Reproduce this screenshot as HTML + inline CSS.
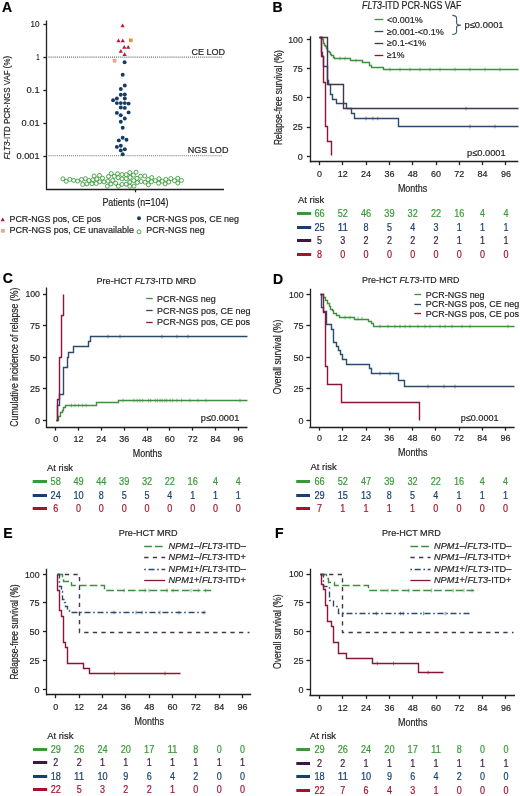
<!DOCTYPE html>
<html><head><meta charset="utf-8"><title>Figure</title>
<style>
html,body{margin:0;padding:0;background:#fff;}
body{width:520px;height:796px;overflow:hidden;}
svg{display:block;will-change:transform;}
text{font-family:"Liberation Sans",sans-serif;stroke-width:0.2px;}
</style></head><body>
<svg width="520" height="796" viewBox="0 0 520 796" fill="#231f20" stroke="#231f20" stroke-width="0">
<rect width="520" height="796" fill="#fff"/>
<text x="1.90" y="12.20" font-size="14" fill="#000" stroke="#000" font-weight="bold">A</text>
<line x1="46.50" y1="20.50" x2="46.50" y2="189.90" stroke="#231f20" stroke-width="1.3"/>
<line x1="46.00" y1="189.50" x2="224.00" y2="189.50" stroke="#231f20" stroke-width="1.3"/>
<line x1="43.40" y1="24.50" x2="46.60" y2="24.50" stroke="#231f20" stroke-width="1.3"/>
<text x="39.60" y="27.30" font-size="9.3" text-anchor="end" textLength="9" lengthAdjust="spacingAndGlyphs">10</text>
<line x1="43.40" y1="57.50" x2="46.60" y2="57.50" stroke="#231f20" stroke-width="1.3"/>
<text x="39.60" y="60.30" font-size="9.3" text-anchor="end" textLength="3.4" lengthAdjust="spacingAndGlyphs">1</text>
<line x1="43.40" y1="90.50" x2="46.60" y2="90.50" stroke="#231f20" stroke-width="1.3"/>
<text x="39.60" y="93.30" font-size="9.3" text-anchor="end" textLength="13" lengthAdjust="spacingAndGlyphs">0.1</text>
<line x1="43.40" y1="123.50" x2="46.60" y2="123.50" stroke="#231f20" stroke-width="1.3"/>
<text x="39.60" y="126.30" font-size="9.3" text-anchor="end" textLength="18" lengthAdjust="spacingAndGlyphs">0.01</text>
<line x1="43.40" y1="156.50" x2="46.60" y2="156.50" stroke="#231f20" stroke-width="1.3"/>
<text x="39.60" y="159.30" font-size="9.3" text-anchor="end" textLength="23" lengthAdjust="spacingAndGlyphs">0.001</text>
<line x1="135.50" y1="189.30" x2="135.50" y2="192.30" stroke="#231f20" stroke-width="1.3"/>
<text x="102.40" y="206.00" font-size="10.8" textLength="66" lengthAdjust="spacingAndGlyphs">Patients (n=104)</text>
<text transform="translate(10.4,159.6) rotate(-90)" font-size="9.7" textLength="103.8" lengthAdjust="spacingAndGlyphs"><tspan font-style="italic">FLT3</tspan>-ITD PCR-NGS VAF (%)</text>
<line x1="48.5" y1="57.1" x2="222.5" y2="57.1" stroke="#6a6a6a" stroke-width="1.05" stroke-dasharray="1 1.05"/>
<line x1="48.5" y1="155.8" x2="222.5" y2="155.8" stroke="#6a6a6a" stroke-width="1.05" stroke-dasharray="1 1.05"/>
<text x="191.40" y="54.60" font-size="8.9" textLength="33.6" lengthAdjust="spacingAndGlyphs">CE LOD</text>
<text x="187.80" y="152.70" font-size="8.9" textLength="40.6" lengthAdjust="spacingAndGlyphs">NGS LOD</text>
<path d="M120.50 27.29 L122.60 23.51 L124.70 27.29 Z" fill="#c2142f"/>
<path d="M116.40 42.19 L118.50 38.41 L120.60 42.19 Z" fill="#c2142f"/>
<path d="M120.70 42.19 L122.80 38.41 L124.90 42.19 Z" fill="#c2142f"/>
<path d="M122.20 48.79 L124.30 45.01 L126.40 48.79 Z" fill="#c2142f"/>
<path d="M126.10 48.79 L128.20 45.01 L130.30 48.79 Z" fill="#c2142f"/>
<path d="M118.70 52.69 L120.80 48.91 L122.90 52.69 Z" fill="#c2142f"/>
<path d="M122.50 56.09 L124.60 52.31 L126.70 56.09 Z" fill="#c2142f"/>
<rect x="129.0" y="38.5" width="3.6" height="3.6" fill="#e8912c"/>
<rect x="112.8" y="59.0" width="3.6" height="3.6" fill="#eea290"/>
<circle cx="124.6" cy="62.2" r="1.95" fill="#143a66"/>
<circle cx="122.7" cy="74.8" r="1.95" fill="#143a66"/>
<circle cx="124.8" cy="85.5" r="1.95" fill="#143a66"/>
<circle cx="120.8" cy="89" r="1.95" fill="#143a66"/>
<circle cx="120.8" cy="94.8" r="1.95" fill="#143a66"/>
<circle cx="124.8" cy="94.5" r="1.95" fill="#143a66"/>
<circle cx="116.9" cy="98.5" r="1.95" fill="#143a66"/>
<circle cx="124.8" cy="98.5" r="1.95" fill="#143a66"/>
<circle cx="113.1" cy="100.2" r="1.95" fill="#143a66"/>
<circle cx="116.9" cy="103.1" r="1.95" fill="#143a66"/>
<circle cx="120.8" cy="103.1" r="1.95" fill="#143a66"/>
<circle cx="124.8" cy="103.1" r="1.95" fill="#143a66"/>
<circle cx="128.6" cy="103.6" r="1.95" fill="#143a66"/>
<circle cx="120.8" cy="107.5" r="1.95" fill="#143a66"/>
<circle cx="124.8" cy="107.9" r="1.95" fill="#143a66"/>
<circle cx="116.9" cy="112.9" r="1.95" fill="#143a66"/>
<circle cx="128.6" cy="112.4" r="1.95" fill="#143a66"/>
<circle cx="120.8" cy="115.2" r="1.95" fill="#143a66"/>
<circle cx="124.8" cy="118.5" r="1.95" fill="#143a66"/>
<circle cx="120.8" cy="121.8" r="1.95" fill="#143a66"/>
<circle cx="122.7" cy="127.7" r="1.95" fill="#143a66"/>
<circle cx="122.7" cy="137.7" r="1.95" fill="#143a66"/>
<circle cx="118.8" cy="140.4" r="1.95" fill="#143a66"/>
<circle cx="126.5" cy="139.8" r="1.95" fill="#143a66"/>
<circle cx="116.9" cy="146.9" r="1.95" fill="#143a66"/>
<circle cx="120.8" cy="145.8" r="1.95" fill="#143a66"/>
<circle cx="120.8" cy="150.4" r="1.95" fill="#143a66"/>
<circle cx="124.8" cy="149.2" r="1.95" fill="#143a66"/>
<circle cx="122.7" cy="154.2" r="1.95" fill="#143a66"/>
<circle cx="122.00" cy="184.40" r="2.0" fill="none" stroke="#3b9d3b" stroke-width="0.9"/>
<circle cx="122.00" cy="178.89" r="2.0" fill="none" stroke="#3b9d3b" stroke-width="0.9"/>
<circle cx="126.20" cy="184.13" r="2.0" fill="none" stroke="#3b9d3b" stroke-width="0.9"/>
<circle cx="118.40" cy="186.20" r="2.0" fill="none" stroke="#3b9d3b" stroke-width="0.9"/>
<circle cx="122.00" cy="174.52" r="2.0" fill="none" stroke="#3b9d3b" stroke-width="0.9"/>
<circle cx="115.70" cy="183.18" r="2.0" fill="none" stroke="#3b9d3b" stroke-width="0.9"/>
<circle cx="129.80" cy="182.12" r="2.0" fill="none" stroke="#3b9d3b" stroke-width="0.9"/>
<circle cx="112.70" cy="180.43" r="2.0" fill="none" stroke="#3b9d3b" stroke-width="0.9"/>
<circle cx="129.80" cy="186.20" r="2.0" fill="none" stroke="#3b9d3b" stroke-width="0.9"/>
<circle cx="126.20" cy="178.68" r="2.0" fill="none" stroke="#3b9d3b" stroke-width="0.9"/>
<circle cx="110.90" cy="184.04" r="2.0" fill="none" stroke="#3b9d3b" stroke-width="0.9"/>
<circle cx="133.70" cy="180.56" r="2.0" fill="none" stroke="#3b9d3b" stroke-width="0.9"/>
<circle cx="118.10" cy="177.68" r="2.0" fill="none" stroke="#3b9d3b" stroke-width="0.9"/>
<circle cx="107.90" cy="181.17" r="2.0" fill="none" stroke="#3b9d3b" stroke-width="0.9"/>
<circle cx="137.30" cy="182.52" r="2.0" fill="none" stroke="#3b9d3b" stroke-width="0.9"/>
<circle cx="104.00" cy="181.87" r="2.0" fill="none" stroke="#3b9d3b" stroke-width="0.9"/>
<circle cx="141.20" cy="181.47" r="2.0" fill="none" stroke="#3b9d3b" stroke-width="0.9"/>
<circle cx="99.80" cy="181.82" r="2.0" fill="none" stroke="#3b9d3b" stroke-width="0.9"/>
<circle cx="145.10" cy="182.22" r="2.0" fill="none" stroke="#3b9d3b" stroke-width="0.9"/>
<circle cx="130.10" cy="177.45" r="2.0" fill="none" stroke="#3b9d3b" stroke-width="0.9"/>
<circle cx="96.80" cy="178.98" r="2.0" fill="none" stroke="#3b9d3b" stroke-width="0.9"/>
<circle cx="96.20" cy="183.48" r="2.0" fill="none" stroke="#3b9d3b" stroke-width="0.9"/>
<circle cx="134.00" cy="186.07" r="2.0" fill="none" stroke="#3b9d3b" stroke-width="0.9"/>
<circle cx="148.40" cy="184.78" r="2.0" fill="none" stroke="#3b9d3b" stroke-width="0.9"/>
<circle cx="126.20" cy="174.71" r="2.0" fill="none" stroke="#3b9d3b" stroke-width="0.9"/>
<circle cx="148.10" cy="179.57" r="2.0" fill="none" stroke="#3b9d3b" stroke-width="0.9"/>
<circle cx="151.40" cy="181.75" r="2.0" fill="none" stroke="#3b9d3b" stroke-width="0.9"/>
<circle cx="92.90" cy="179.87" r="2.0" fill="none" stroke="#3b9d3b" stroke-width="0.9"/>
<circle cx="114.20" cy="176.26" r="2.0" fill="none" stroke="#3b9d3b" stroke-width="0.9"/>
<circle cx="137.00" cy="178.29" r="2.0" fill="none" stroke="#3b9d3b" stroke-width="0.9"/>
<circle cx="89.00" cy="180.58" r="2.0" fill="none" stroke="#3b9d3b" stroke-width="0.9"/>
<circle cx="133.40" cy="175.11" r="2.0" fill="none" stroke="#3b9d3b" stroke-width="0.9"/>
<circle cx="102.50" cy="178.20" r="2.0" fill="none" stroke="#3b9d3b" stroke-width="0.9"/>
<circle cx="155.30" cy="180.65" r="2.0" fill="none" stroke="#3b9d3b" stroke-width="0.9"/>
<circle cx="117.50" cy="173.76" r="2.0" fill="none" stroke="#3b9d3b" stroke-width="0.9"/>
<circle cx="85.40" cy="178.68" r="2.0" fill="none" stroke="#3b9d3b" stroke-width="0.9"/>
<circle cx="92.00" cy="183.76" r="2.0" fill="none" stroke="#3b9d3b" stroke-width="0.9"/>
<circle cx="158.90" cy="178.73" r="2.0" fill="none" stroke="#3b9d3b" stroke-width="0.9"/>
<circle cx="111.20" cy="173.55" r="2.0" fill="none" stroke="#3b9d3b" stroke-width="0.9"/>
<circle cx="81.50" cy="179.49" r="2.0" fill="none" stroke="#3b9d3b" stroke-width="0.9"/>
<circle cx="108.50" cy="176.53" r="2.0" fill="none" stroke="#3b9d3b" stroke-width="0.9"/>
<circle cx="162.20" cy="181.18" r="2.0" fill="none" stroke="#3b9d3b" stroke-width="0.9"/>
<circle cx="165.80" cy="179.36" r="2.0" fill="none" stroke="#3b9d3b" stroke-width="0.9"/>
<circle cx="129.80" cy="172.58" r="2.0" fill="none" stroke="#3b9d3b" stroke-width="0.9"/>
<circle cx="77.60" cy="181.04" r="2.0" fill="none" stroke="#3b9d3b" stroke-width="0.9"/>
<circle cx="136.10" cy="172.20" r="2.0" fill="none" stroke="#3b9d3b" stroke-width="0.9"/>
<circle cx="168.80" cy="182.06" r="2.0" fill="none" stroke="#3b9d3b" stroke-width="0.9"/>
<circle cx="86.90" cy="183.92" r="2.0" fill="none" stroke="#3b9d3b" stroke-width="0.9"/>
<circle cx="107.30" cy="186.20" r="2.0" fill="none" stroke="#3b9d3b" stroke-width="0.9"/>
<circle cx="158.60" cy="183.21" r="2.0" fill="none" stroke="#3b9d3b" stroke-width="0.9"/>
<circle cx="73.70" cy="180.41" r="2.0" fill="none" stroke="#3b9d3b" stroke-width="0.9"/>
<circle cx="82.70" cy="184.37" r="2.0" fill="none" stroke="#3b9d3b" stroke-width="0.9"/>
<circle cx="170.90" cy="178.58" r="2.0" fill="none" stroke="#3b9d3b" stroke-width="0.9"/>
<circle cx="140.60" cy="176.20" r="2.0" fill="none" stroke="#3b9d3b" stroke-width="0.9"/>
<circle cx="144.80" cy="175.99" r="2.0" fill="none" stroke="#3b9d3b" stroke-width="0.9"/>
<circle cx="174.50" cy="180.71" r="2.0" fill="none" stroke="#3b9d3b" stroke-width="0.9"/>
<circle cx="99.50" cy="175.48" r="2.0" fill="none" stroke="#3b9d3b" stroke-width="0.9"/>
<circle cx="151.70" cy="177.53" r="2.0" fill="none" stroke="#3b9d3b" stroke-width="0.9"/>
<circle cx="69.80" cy="179.43" r="2.0" fill="none" stroke="#3b9d3b" stroke-width="0.9"/>
<circle cx="94.10" cy="175.99" r="2.0" fill="none" stroke="#3b9d3b" stroke-width="0.9"/>
<circle cx="177.80" cy="178.27" r="2.0" fill="none" stroke="#3b9d3b" stroke-width="0.9"/>
<circle cx="66.20" cy="181.23" r="2.0" fill="none" stroke="#3b9d3b" stroke-width="0.9"/>
<circle cx="177.80" cy="183.09" r="2.0" fill="none" stroke="#3b9d3b" stroke-width="0.9"/>
<circle cx="181.40" cy="180.41" r="2.0" fill="none" stroke="#3b9d3b" stroke-width="0.9"/>
<circle cx="165.20" cy="183.90" r="2.0" fill="none" stroke="#3b9d3b" stroke-width="0.9"/>
<circle cx="62.90" cy="178.84" r="2.0" fill="none" stroke="#3b9d3b" stroke-width="0.9"/>
<path d="M0.55 221.34 L2.70 217.47 L4.85 221.34 Z" fill="#c2142f"/>
<text x="9.50" y="221.50" font-size="9.2" textLength="91.5" lengthAdjust="spacingAndGlyphs">PCR-NGS pos, CE pos</text>
<rect x="1.1" y="228.9" width="3.7" height="3.8" fill="#eea290"/>
<text x="9.50" y="233.30" font-size="9.2" textLength="124.5" lengthAdjust="spacingAndGlyphs">PCR-NGS pos, CE unavailable</text>
<circle cx="139" cy="218.3" r="1.95" fill="#143a66"/>
<text x="146.20" y="221.50" font-size="9.2" textLength="92.8" lengthAdjust="spacingAndGlyphs">PCR-NGS pos, CE neg</text>
<circle cx="139" cy="231.8" r="2.0" fill="none" stroke="#3b9d3b" stroke-width="0.9"/>
<text x="146.20" y="233.30" font-size="9.2" textLength="58.4" lengthAdjust="spacingAndGlyphs">PCR-NGS neg</text>
<text x="272.40" y="12.30" font-size="14" fill="#000" stroke="#000" font-weight="bold">B</text>
<line x1="310.50" y1="36.20" x2="310.50" y2="162.40" stroke="#231f20" stroke-width="1.3"/>
<line x1="309.80" y1="161.50" x2="518.30" y2="161.50" stroke="#231f20" stroke-width="1.3"/>
<line x1="306.80" y1="156.50" x2="310.40" y2="156.50" stroke="#231f20" stroke-width="1.3"/>
<text x="302.80" y="159.80" font-size="9.6" text-anchor="end" textLength="5.0" lengthAdjust="spacingAndGlyphs">0</text>
<line x1="306.80" y1="127.50" x2="310.40" y2="127.50" stroke="#231f20" stroke-width="1.3"/>
<text x="302.80" y="130.47" font-size="9.6" text-anchor="end" textLength="10.0" lengthAdjust="spacingAndGlyphs">25</text>
<line x1="306.80" y1="97.50" x2="310.40" y2="97.50" stroke="#231f20" stroke-width="1.3"/>
<text x="302.80" y="101.15" font-size="9.6" text-anchor="end" textLength="10.0" lengthAdjust="spacingAndGlyphs">50</text>
<line x1="306.80" y1="68.50" x2="310.40" y2="68.50" stroke="#231f20" stroke-width="1.3"/>
<text x="302.80" y="71.83" font-size="9.6" text-anchor="end" textLength="10.0" lengthAdjust="spacingAndGlyphs">75</text>
<line x1="306.80" y1="39.50" x2="310.40" y2="39.50" stroke="#231f20" stroke-width="1.3"/>
<text x="302.80" y="42.50" font-size="9.6" text-anchor="end" textLength="14.6" lengthAdjust="spacingAndGlyphs">100</text>
<line x1="319.50" y1="161.80" x2="319.50" y2="165.20" stroke="#231f20" stroke-width="1.3"/>
<text x="319.50" y="177.20" font-size="9.5" text-anchor="middle" textLength="5.0" lengthAdjust="spacingAndGlyphs">0</text>
<line x1="342.50" y1="161.80" x2="342.50" y2="165.20" stroke="#231f20" stroke-width="1.3"/>
<text x="342.80" y="177.20" font-size="9.5" text-anchor="middle" textLength="10.0" lengthAdjust="spacingAndGlyphs">12</text>
<line x1="366.50" y1="161.80" x2="366.50" y2="165.20" stroke="#231f20" stroke-width="1.3"/>
<text x="366.10" y="177.20" font-size="9.5" text-anchor="middle" textLength="10.0" lengthAdjust="spacingAndGlyphs">24</text>
<line x1="389.50" y1="161.80" x2="389.50" y2="165.20" stroke="#231f20" stroke-width="1.3"/>
<text x="389.40" y="177.20" font-size="9.5" text-anchor="middle" textLength="10.0" lengthAdjust="spacingAndGlyphs">36</text>
<line x1="412.50" y1="161.80" x2="412.50" y2="165.20" stroke="#231f20" stroke-width="1.3"/>
<text x="412.70" y="177.20" font-size="9.5" text-anchor="middle" textLength="10.0" lengthAdjust="spacingAndGlyphs">48</text>
<line x1="436.50" y1="161.80" x2="436.50" y2="165.20" stroke="#231f20" stroke-width="1.3"/>
<text x="436.00" y="177.20" font-size="9.5" text-anchor="middle" textLength="10.0" lengthAdjust="spacingAndGlyphs">60</text>
<line x1="459.50" y1="161.80" x2="459.50" y2="165.20" stroke="#231f20" stroke-width="1.3"/>
<text x="459.30" y="177.20" font-size="9.5" text-anchor="middle" textLength="10.0" lengthAdjust="spacingAndGlyphs">72</text>
<line x1="482.50" y1="161.80" x2="482.50" y2="165.20" stroke="#231f20" stroke-width="1.3"/>
<text x="482.60" y="177.20" font-size="9.5" text-anchor="middle" textLength="10.0" lengthAdjust="spacingAndGlyphs">84</text>
<line x1="505.50" y1="161.80" x2="505.50" y2="165.20" stroke="#231f20" stroke-width="1.3"/>
<text x="505.90" y="177.20" font-size="9.5" text-anchor="middle" textLength="10.0" lengthAdjust="spacingAndGlyphs">96</text>
<text x="397.90" y="192.10" font-size="10.2" textLength="29.4" lengthAdjust="spacingAndGlyphs">Months</text>
<text transform="translate(281.8,145.1) rotate(-90)" font-size="10.6" textLength="95" lengthAdjust="spacingAndGlyphs">Relapse-free survival (%)</text>
<text x="362" y="9.0" font-size="10.2" textLength="99.3" lengthAdjust="spacingAndGlyphs"><tspan font-style="italic">FLT3</tspan>-ITD PCR-NGS VAF</text>
<line x1="374.60" y1="19.50" x2="383.30" y2="19.50" stroke="#3f8f3f" stroke-width="1.3"/>
<text x="387.10" y="22.60" font-size="9" textLength="35.6" lengthAdjust="spacingAndGlyphs">&lt;0.001%</text>
<line x1="374.60" y1="31.50" x2="383.30" y2="31.50" stroke="#2b4b6c" stroke-width="1.3"/>
<text x="387.10" y="34.50" font-size="9" textLength="56.7" lengthAdjust="spacingAndGlyphs">≥0.001-&lt;0.1%</text>
<line x1="374.60" y1="43.50" x2="383.30" y2="43.50" stroke="#46344f" stroke-width="1.3"/>
<text x="387.10" y="46.10" font-size="9" textLength="39.1" lengthAdjust="spacingAndGlyphs">≥0.1-&lt;1%</text>
<line x1="374.60" y1="55.50" x2="383.30" y2="55.50" stroke="#8a1538" stroke-width="1.3"/>
<text x="387.10" y="58.20" font-size="9" textLength="17.3" lengthAdjust="spacingAndGlyphs">≥1%</text>
<path d="M452.3 15.4 Q456.6 15.4 456.6 18.5 L456.6 23 Q456.6 25.1 460.8 25.1 Q456.6 25.1 456.6 27.2 L456.6 31.5 Q456.6 34.4 452.3 34.4" fill="none" stroke="#3f5a76" stroke-width="1.1"/>
<text x="464.50" y="28.30" font-size="9.2" textLength="39.1" lengthAdjust="spacingAndGlyphs">p≤0.0001</text>
<text x="467.00" y="155.90" font-size="9.2" textLength="38.7" lengthAdjust="spacingAndGlyphs">p≤0.0001</text>
<path d="M 319.5 37.5 H 322.5 V 39.5 H 323.5 V 42.5 H 323.5 V 43.5 H 324.5 V 45.5 H 325.5 V 46.5 H 326.5 V 48.5 H 327.5 V 49.5 H 327.5 V 51.5 H 329.5 V 52.5 H 330.5 V 54.5 H 331.5 V 55.5 H 333.5 V 57.5 H 334.5 V 58.5 H 350.5 V 60.5 H 362.5 V 62.5 H 369.5 V 65.5 H 371.5 V 67.5 H 383.5 V 69.5 H 518.5" fill="none" stroke="#3f8f3f" stroke-width="1.4"/>
<path d="M 319.5 37.5 H 321.5 V 52.5 H 322.5 V 56.5 H 323.5 V 66.5 H 327.5 V 80.5 H 328.5 V 84.5 H 330.5 V 94.5 H 332.5 V 99.5 H 336.5 V 103.5 H 346.5 V 108.5 H 351.5 V 113.5 H 354.5 V 118.5 H 398.5 V 126.5 H 518.5" fill="none" stroke="#2b4b6c" stroke-width="1.4"/>
<path d="M 319.5 37.5 H 327.5 V 84.5 H 343.5 V 108.5 H 518.5" fill="none" stroke="#46344f" stroke-width="1.4"/>
<path d="M 319.5 37.5 H 321.5 V 56.5 H 323.5 V 82.5 H 325.5 V 126.5 H 327.5 V 141.5 H 331.5 V 155.5" fill="none" stroke="#8a1538" stroke-width="1.4"/>
<line x1="340.00" y1="56.60" x2="340.00" y2="60.40" stroke="#3f8f3f" stroke-width="0.6"/>
<line x1="345.00" y1="56.60" x2="345.00" y2="60.40" stroke="#3f8f3f" stroke-width="0.6"/>
<line x1="356.00" y1="58.60" x2="356.00" y2="62.40" stroke="#3f8f3f" stroke-width="0.6"/>
<line x1="390.00" y1="67.60" x2="390.00" y2="71.40" stroke="#3f8f3f" stroke-width="0.6"/>
<line x1="400.00" y1="67.60" x2="400.00" y2="71.40" stroke="#3f8f3f" stroke-width="0.6"/>
<line x1="410.00" y1="67.60" x2="410.00" y2="71.40" stroke="#3f8f3f" stroke-width="0.6"/>
<line x1="420.00" y1="67.60" x2="420.00" y2="71.40" stroke="#3f8f3f" stroke-width="0.6"/>
<line x1="430.00" y1="67.60" x2="430.00" y2="71.40" stroke="#3f8f3f" stroke-width="0.6"/>
<line x1="440.00" y1="67.60" x2="440.00" y2="71.40" stroke="#3f8f3f" stroke-width="0.6"/>
<line x1="455.00" y1="67.60" x2="455.00" y2="71.40" stroke="#3f8f3f" stroke-width="0.6"/>
<line x1="470.00" y1="67.60" x2="470.00" y2="71.40" stroke="#3f8f3f" stroke-width="0.6"/>
<line x1="485.00" y1="67.60" x2="485.00" y2="71.40" stroke="#3f8f3f" stroke-width="0.6"/>
<line x1="500.00" y1="67.60" x2="500.00" y2="71.40" stroke="#3f8f3f" stroke-width="0.6"/>
<line x1="366.00" y1="116.60" x2="366.00" y2="120.40" stroke="#2b4b6c" stroke-width="0.6"/>
<line x1="372.90" y1="116.60" x2="372.90" y2="120.40" stroke="#2b4b6c" stroke-width="0.6"/>
<line x1="377.70" y1="116.60" x2="377.70" y2="120.40" stroke="#2b4b6c" stroke-width="0.6"/>
<line x1="470.00" y1="124.60" x2="470.00" y2="128.40" stroke="#2b4b6c" stroke-width="0.6"/>
<line x1="495.00" y1="124.60" x2="495.00" y2="128.40" stroke="#2b4b6c" stroke-width="0.6"/>
<line x1="466.00" y1="106.60" x2="466.00" y2="110.40" stroke="#46344f" stroke-width="0.6"/>
<text x="298.00" y="203.00" font-size="9.4" textLength="26.2" lengthAdjust="spacingAndGlyphs">At risk</text>
<line x1="297.00" y1="213.50" x2="311.20" y2="213.50" stroke="#389a36" stroke-width="3.0"/>
<text x="319.50" y="217.10" font-size="10.0" text-anchor="middle" fill="#389a36" stroke="#389a36" textLength="10.2" lengthAdjust="spacingAndGlyphs">66</text>
<text x="342.80" y="217.10" font-size="10.0" text-anchor="middle" fill="#389a36" stroke="#389a36" textLength="10.2" lengthAdjust="spacingAndGlyphs">52</text>
<text x="366.10" y="217.10" font-size="10.0" text-anchor="middle" fill="#389a36" stroke="#389a36" textLength="10.2" lengthAdjust="spacingAndGlyphs">46</text>
<text x="389.40" y="217.10" font-size="10.0" text-anchor="middle" fill="#389a36" stroke="#389a36" textLength="10.2" lengthAdjust="spacingAndGlyphs">39</text>
<text x="412.70" y="217.10" font-size="10.0" text-anchor="middle" fill="#389a36" stroke="#389a36" textLength="10.2" lengthAdjust="spacingAndGlyphs">32</text>
<text x="436.00" y="217.10" font-size="10.0" text-anchor="middle" fill="#389a36" stroke="#389a36" textLength="10.2" lengthAdjust="spacingAndGlyphs">22</text>
<text x="459.30" y="217.10" font-size="10.0" text-anchor="middle" fill="#389a36" stroke="#389a36" textLength="10.2" lengthAdjust="spacingAndGlyphs">16</text>
<text x="482.60" y="217.10" font-size="10.0" text-anchor="middle" fill="#389a36" stroke="#389a36" textLength="5.0" lengthAdjust="spacingAndGlyphs">4</text>
<text x="505.90" y="217.10" font-size="10.0" text-anchor="middle" fill="#389a36" stroke="#389a36" textLength="5.0" lengthAdjust="spacingAndGlyphs">4</text>
<line x1="297.00" y1="227.50" x2="311.20" y2="227.50" stroke="#17406e" stroke-width="3.0"/>
<text x="319.50" y="230.80" font-size="10.0" text-anchor="middle" fill="#17406e" stroke="#17406e" textLength="10.2" lengthAdjust="spacingAndGlyphs">25</text>
<text x="342.80" y="230.80" font-size="10.0" text-anchor="middle" fill="#17406e" stroke="#17406e" textLength="10.2" lengthAdjust="spacingAndGlyphs">11</text>
<text x="366.10" y="230.80" font-size="10.0" text-anchor="middle" fill="#17406e" stroke="#17406e" textLength="5.0" lengthAdjust="spacingAndGlyphs">8</text>
<text x="389.40" y="230.80" font-size="10.0" text-anchor="middle" fill="#17406e" stroke="#17406e" textLength="5.0" lengthAdjust="spacingAndGlyphs">5</text>
<text x="412.70" y="230.80" font-size="10.0" text-anchor="middle" fill="#17406e" stroke="#17406e" textLength="5.0" lengthAdjust="spacingAndGlyphs">4</text>
<text x="436.00" y="230.80" font-size="10.0" text-anchor="middle" fill="#17406e" stroke="#17406e" textLength="5.0" lengthAdjust="spacingAndGlyphs">3</text>
<text x="459.30" y="230.80" font-size="10.0" text-anchor="middle" fill="#17406e" stroke="#17406e" textLength="5.0" lengthAdjust="spacingAndGlyphs">1</text>
<text x="482.60" y="230.80" font-size="10.0" text-anchor="middle" fill="#17406e" stroke="#17406e" textLength="5.0" lengthAdjust="spacingAndGlyphs">1</text>
<text x="505.90" y="230.80" font-size="10.0" text-anchor="middle" fill="#17406e" stroke="#17406e" textLength="5.0" lengthAdjust="spacingAndGlyphs">1</text>
<line x1="297.00" y1="240.50" x2="311.20" y2="240.50" stroke="#3a1a40" stroke-width="3.0"/>
<text x="319.50" y="244.10" font-size="10.0" text-anchor="middle" fill="#3a1a40" stroke="#3a1a40" textLength="5.0" lengthAdjust="spacingAndGlyphs">5</text>
<text x="342.80" y="244.10" font-size="10.0" text-anchor="middle" fill="#3a1a40" stroke="#3a1a40" textLength="5.0" lengthAdjust="spacingAndGlyphs">3</text>
<text x="366.10" y="244.10" font-size="10.0" text-anchor="middle" fill="#3a1a40" stroke="#3a1a40" textLength="5.0" lengthAdjust="spacingAndGlyphs">2</text>
<text x="389.40" y="244.10" font-size="10.0" text-anchor="middle" fill="#3a1a40" stroke="#3a1a40" textLength="5.0" lengthAdjust="spacingAndGlyphs">2</text>
<text x="412.70" y="244.10" font-size="10.0" text-anchor="middle" fill="#3a1a40" stroke="#3a1a40" textLength="5.0" lengthAdjust="spacingAndGlyphs">2</text>
<text x="436.00" y="244.10" font-size="10.0" text-anchor="middle" fill="#3a1a40" stroke="#3a1a40" textLength="5.0" lengthAdjust="spacingAndGlyphs">2</text>
<text x="459.30" y="244.10" font-size="10.0" text-anchor="middle" fill="#3a1a40" stroke="#3a1a40" textLength="5.0" lengthAdjust="spacingAndGlyphs">1</text>
<text x="482.60" y="244.10" font-size="10.0" text-anchor="middle" fill="#3a1a40" stroke="#3a1a40" textLength="5.0" lengthAdjust="spacingAndGlyphs">1</text>
<text x="505.90" y="244.10" font-size="10.0" text-anchor="middle" fill="#3a1a40" stroke="#3a1a40" textLength="5.0" lengthAdjust="spacingAndGlyphs">1</text>
<line x1="297.00" y1="254.50" x2="311.20" y2="254.50" stroke="#a3132f" stroke-width="3.0"/>
<text x="319.50" y="257.60" font-size="10.0" text-anchor="middle" fill="#a3132f" stroke="#a3132f" textLength="5.0" lengthAdjust="spacingAndGlyphs">8</text>
<text x="342.80" y="257.60" font-size="10.0" text-anchor="middle" fill="#a3132f" stroke="#a3132f" textLength="5.0" lengthAdjust="spacingAndGlyphs">0</text>
<text x="366.10" y="257.60" font-size="10.0" text-anchor="middle" fill="#a3132f" stroke="#a3132f" textLength="5.0" lengthAdjust="spacingAndGlyphs">0</text>
<text x="389.40" y="257.60" font-size="10.0" text-anchor="middle" fill="#a3132f" stroke="#a3132f" textLength="5.0" lengthAdjust="spacingAndGlyphs">0</text>
<text x="412.70" y="257.60" font-size="10.0" text-anchor="middle" fill="#a3132f" stroke="#a3132f" textLength="5.0" lengthAdjust="spacingAndGlyphs">0</text>
<text x="436.00" y="257.60" font-size="10.0" text-anchor="middle" fill="#a3132f" stroke="#a3132f" textLength="5.0" lengthAdjust="spacingAndGlyphs">0</text>
<text x="459.30" y="257.60" font-size="10.0" text-anchor="middle" fill="#a3132f" stroke="#a3132f" textLength="5.0" lengthAdjust="spacingAndGlyphs">0</text>
<text x="482.60" y="257.60" font-size="10.0" text-anchor="middle" fill="#a3132f" stroke="#a3132f" textLength="5.0" lengthAdjust="spacingAndGlyphs">0</text>
<text x="505.90" y="257.60" font-size="10.0" text-anchor="middle" fill="#a3132f" stroke="#a3132f" textLength="5.0" lengthAdjust="spacingAndGlyphs">0</text>
<text x="2.70" y="283.10" font-size="14" fill="#000" stroke="#000" font-weight="bold">C</text>
<line x1="46.50" y1="287.50" x2="46.50" y2="427.80" stroke="#231f20" stroke-width="1.3"/>
<line x1="45.90" y1="427.50" x2="247.50" y2="427.50" stroke="#231f20" stroke-width="1.3"/>
<line x1="42.90" y1="420.50" x2="46.50" y2="420.50" stroke="#231f20" stroke-width="1.3"/>
<text x="40.00" y="423.70" font-size="9.6" text-anchor="end" textLength="5.0" lengthAdjust="spacingAndGlyphs">0</text>
<line x1="42.90" y1="388.50" x2="46.50" y2="388.50" stroke="#231f20" stroke-width="1.3"/>
<text x="40.00" y="392.12" font-size="9.6" text-anchor="end" textLength="10.0" lengthAdjust="spacingAndGlyphs">25</text>
<line x1="42.90" y1="357.50" x2="46.50" y2="357.50" stroke="#231f20" stroke-width="1.3"/>
<text x="40.00" y="360.55" font-size="9.6" text-anchor="end" textLength="10.0" lengthAdjust="spacingAndGlyphs">50</text>
<line x1="42.90" y1="325.50" x2="46.50" y2="325.50" stroke="#231f20" stroke-width="1.3"/>
<text x="40.00" y="328.97" font-size="9.6" text-anchor="end" textLength="10.0" lengthAdjust="spacingAndGlyphs">75</text>
<line x1="42.90" y1="294.50" x2="46.50" y2="294.50" stroke="#231f20" stroke-width="1.3"/>
<text x="40.00" y="297.40" font-size="9.6" text-anchor="end" textLength="14.6" lengthAdjust="spacingAndGlyphs">100</text>
<line x1="55.50" y1="427.20" x2="55.50" y2="430.60" stroke="#231f20" stroke-width="1.3"/>
<text x="55.70" y="441.60" font-size="9.5" text-anchor="middle" textLength="5.0" lengthAdjust="spacingAndGlyphs">0</text>
<line x1="78.50" y1="427.20" x2="78.50" y2="430.60" stroke="#231f20" stroke-width="1.3"/>
<text x="78.53" y="441.60" font-size="9.5" text-anchor="middle" textLength="10.0" lengthAdjust="spacingAndGlyphs">12</text>
<line x1="101.50" y1="427.20" x2="101.50" y2="430.60" stroke="#231f20" stroke-width="1.3"/>
<text x="101.36" y="441.60" font-size="9.5" text-anchor="middle" textLength="10.0" lengthAdjust="spacingAndGlyphs">24</text>
<line x1="124.50" y1="427.20" x2="124.50" y2="430.60" stroke="#231f20" stroke-width="1.3"/>
<text x="124.19" y="441.60" font-size="9.5" text-anchor="middle" textLength="10.0" lengthAdjust="spacingAndGlyphs">36</text>
<line x1="147.50" y1="427.20" x2="147.50" y2="430.60" stroke="#231f20" stroke-width="1.3"/>
<text x="147.02" y="441.60" font-size="9.5" text-anchor="middle" textLength="10.0" lengthAdjust="spacingAndGlyphs">48</text>
<line x1="169.50" y1="427.20" x2="169.50" y2="430.60" stroke="#231f20" stroke-width="1.3"/>
<text x="169.85" y="441.60" font-size="9.5" text-anchor="middle" textLength="10.0" lengthAdjust="spacingAndGlyphs">60</text>
<line x1="192.50" y1="427.20" x2="192.50" y2="430.60" stroke="#231f20" stroke-width="1.3"/>
<text x="192.68" y="441.60" font-size="9.5" text-anchor="middle" textLength="10.0" lengthAdjust="spacingAndGlyphs">72</text>
<line x1="215.50" y1="427.20" x2="215.50" y2="430.60" stroke="#231f20" stroke-width="1.3"/>
<text x="215.51" y="441.60" font-size="9.5" text-anchor="middle" textLength="10.0" lengthAdjust="spacingAndGlyphs">84</text>
<line x1="238.50" y1="427.20" x2="238.50" y2="430.60" stroke="#231f20" stroke-width="1.3"/>
<text x="238.34" y="441.60" font-size="9.5" text-anchor="middle" textLength="10.0" lengthAdjust="spacingAndGlyphs">96</text>
<text x="132.70" y="457.30" font-size="10.2" textLength="29.4" lengthAdjust="spacingAndGlyphs">Months</text>
<text transform="translate(17.8,426.7) rotate(-90)" font-size="10.6" textLength="139" lengthAdjust="spacingAndGlyphs">Cumulative incidence of relapse (%)</text>
<text x="96.5" y="283.7" font-size="9.4" textLength="99.7" lengthAdjust="spacingAndGlyphs">Pre-HCT <tspan font-style="italic">FLT3</tspan>-ITD MRD</text>
<line x1="146.20" y1="298.50" x2="152.70" y2="298.50" stroke="#3f8f3f" stroke-width="1.3"/>
<text x="157.00" y="301.60" font-size="9.6" textLength="58.8" lengthAdjust="spacingAndGlyphs">PCR-NGS neg</text>
<line x1="146.20" y1="310.50" x2="152.70" y2="310.50" stroke="#2b4b6c" stroke-width="1.3"/>
<text x="157.00" y="313.60" font-size="9.6" textLength="93.4" lengthAdjust="spacingAndGlyphs">PCR-NGS pos, CE neg</text>
<line x1="146.20" y1="322.50" x2="152.70" y2="322.50" stroke="#8a1538" stroke-width="1.3"/>
<text x="157.00" y="325.10" font-size="9.6" textLength="93.1" lengthAdjust="spacingAndGlyphs">PCR-NGS pos, CE pos</text>
<text x="200.80" y="420.50" font-size="9.2" textLength="38.5" lengthAdjust="spacingAndGlyphs">p≤0.0001</text>
<path d="M 56.5 420.5 H 58.5 V 416.5 H 60.5 V 412.5 H 62.5 V 410.5 H 63.5 V 407.5 H 65.5 V 405.5 H 96.5 V 402.5 H 118.5 V 400.5 H 247.5" fill="none" stroke="#3f8f3f" stroke-width="1.4"/>
<path d="M 56.5 420.5 H 57.5 V 405.5 H 59.5 V 394.5 H 63.5 V 367.5 H 67.5 V 357.5 H 68.5 V 352.5 H 73.5 V 346.5 H 88.5 V 341.5 H 90.5 V 336.5 H 247.5" fill="none" stroke="#2b4b6c" stroke-width="1.4"/>
<path d="M 56.5 420.5 H 57.5 V 399.5 H 59.5 V 357.5 H 61.5 V 315.5 H 63.5 V 294.5" fill="none" stroke="#8a1538" stroke-width="1.4"/>
<line x1="71.50" y1="403.60" x2="71.50" y2="407.40" stroke="#3f8f3f" stroke-width="0.6"/>
<line x1="75.00" y1="403.60" x2="75.00" y2="407.40" stroke="#3f8f3f" stroke-width="0.6"/>
<line x1="78.60" y1="403.60" x2="78.60" y2="407.40" stroke="#3f8f3f" stroke-width="0.6"/>
<line x1="82.70" y1="403.60" x2="82.70" y2="407.40" stroke="#3f8f3f" stroke-width="0.6"/>
<line x1="86.20" y1="403.60" x2="86.20" y2="407.40" stroke="#3f8f3f" stroke-width="0.6"/>
<line x1="123.10" y1="398.60" x2="123.10" y2="402.40" stroke="#3f8f3f" stroke-width="0.6"/>
<line x1="133.80" y1="398.60" x2="133.80" y2="402.40" stroke="#3f8f3f" stroke-width="0.6"/>
<line x1="137.20" y1="398.60" x2="137.20" y2="402.40" stroke="#3f8f3f" stroke-width="0.6"/>
<line x1="139.90" y1="398.60" x2="139.90" y2="402.40" stroke="#3f8f3f" stroke-width="0.6"/>
<line x1="142.60" y1="398.60" x2="142.60" y2="402.40" stroke="#3f8f3f" stroke-width="0.6"/>
<line x1="148.60" y1="398.60" x2="148.60" y2="402.40" stroke="#3f8f3f" stroke-width="0.6"/>
<line x1="150.70" y1="398.60" x2="150.70" y2="402.40" stroke="#3f8f3f" stroke-width="0.6"/>
<line x1="155.40" y1="398.60" x2="155.40" y2="402.40" stroke="#3f8f3f" stroke-width="0.6"/>
<line x1="157.40" y1="398.60" x2="157.40" y2="402.40" stroke="#3f8f3f" stroke-width="0.6"/>
<line x1="160.10" y1="398.60" x2="160.10" y2="402.40" stroke="#3f8f3f" stroke-width="0.6"/>
<line x1="162.10" y1="398.60" x2="162.10" y2="402.40" stroke="#3f8f3f" stroke-width="0.6"/>
<line x1="164.80" y1="398.60" x2="164.80" y2="402.40" stroke="#3f8f3f" stroke-width="0.6"/>
<line x1="166.80" y1="398.60" x2="166.80" y2="402.40" stroke="#3f8f3f" stroke-width="0.6"/>
<line x1="170.20" y1="398.60" x2="170.20" y2="402.40" stroke="#3f8f3f" stroke-width="0.6"/>
<line x1="172.90" y1="398.60" x2="172.90" y2="402.40" stroke="#3f8f3f" stroke-width="0.6"/>
<line x1="176.90" y1="398.60" x2="176.90" y2="402.40" stroke="#3f8f3f" stroke-width="0.6"/>
<line x1="181.60" y1="398.60" x2="181.60" y2="402.40" stroke="#3f8f3f" stroke-width="0.6"/>
<line x1="190.00" y1="398.60" x2="190.00" y2="402.40" stroke="#3f8f3f" stroke-width="0.6"/>
<line x1="198.00" y1="398.60" x2="198.00" y2="402.40" stroke="#3f8f3f" stroke-width="0.6"/>
<line x1="206.00" y1="398.60" x2="206.00" y2="402.40" stroke="#3f8f3f" stroke-width="0.6"/>
<line x1="240.00" y1="398.60" x2="240.00" y2="402.40" stroke="#3f8f3f" stroke-width="0.6"/>
<line x1="108.00" y1="334.60" x2="108.00" y2="338.40" stroke="#2b4b6c" stroke-width="0.6"/>
<line x1="120.00" y1="334.60" x2="120.00" y2="338.40" stroke="#2b4b6c" stroke-width="0.6"/>
<line x1="162.00" y1="334.60" x2="162.00" y2="338.40" stroke="#2b4b6c" stroke-width="0.6"/>
<line x1="177.00" y1="334.60" x2="177.00" y2="338.40" stroke="#2b4b6c" stroke-width="0.6"/>
<line x1="188.00" y1="334.60" x2="188.00" y2="338.40" stroke="#2b4b6c" stroke-width="0.6"/>
<text x="46.90" y="471.20" font-size="9.4" textLength="26.2" lengthAdjust="spacingAndGlyphs">At risk</text>
<line x1="32.70" y1="481.50" x2="47.00" y2="481.50" stroke="#389a36" stroke-width="3.0"/>
<text x="55.70" y="484.90" font-size="10.0" text-anchor="middle" fill="#389a36" stroke="#389a36" textLength="10.2" lengthAdjust="spacingAndGlyphs">58</text>
<text x="78.53" y="484.90" font-size="10.0" text-anchor="middle" fill="#389a36" stroke="#389a36" textLength="10.2" lengthAdjust="spacingAndGlyphs">49</text>
<text x="101.36" y="484.90" font-size="10.0" text-anchor="middle" fill="#389a36" stroke="#389a36" textLength="10.2" lengthAdjust="spacingAndGlyphs">44</text>
<text x="124.19" y="484.90" font-size="10.0" text-anchor="middle" fill="#389a36" stroke="#389a36" textLength="10.2" lengthAdjust="spacingAndGlyphs">39</text>
<text x="147.02" y="484.90" font-size="10.0" text-anchor="middle" fill="#389a36" stroke="#389a36" textLength="10.2" lengthAdjust="spacingAndGlyphs">32</text>
<text x="169.85" y="484.90" font-size="10.0" text-anchor="middle" fill="#389a36" stroke="#389a36" textLength="10.2" lengthAdjust="spacingAndGlyphs">22</text>
<text x="192.68" y="484.90" font-size="10.0" text-anchor="middle" fill="#389a36" stroke="#389a36" textLength="10.2" lengthAdjust="spacingAndGlyphs">16</text>
<text x="215.51" y="484.90" font-size="10.0" text-anchor="middle" fill="#389a36" stroke="#389a36" textLength="5.0" lengthAdjust="spacingAndGlyphs">4</text>
<text x="238.34" y="484.90" font-size="10.0" text-anchor="middle" fill="#389a36" stroke="#389a36" textLength="5.0" lengthAdjust="spacingAndGlyphs">4</text>
<line x1="32.70" y1="495.50" x2="47.00" y2="495.50" stroke="#17406e" stroke-width="3.0"/>
<text x="55.70" y="498.70" font-size="10.0" text-anchor="middle" fill="#17406e" stroke="#17406e" textLength="10.2" lengthAdjust="spacingAndGlyphs">24</text>
<text x="78.53" y="498.70" font-size="10.0" text-anchor="middle" fill="#17406e" stroke="#17406e" textLength="10.2" lengthAdjust="spacingAndGlyphs">10</text>
<text x="101.36" y="498.70" font-size="10.0" text-anchor="middle" fill="#17406e" stroke="#17406e" textLength="5.0" lengthAdjust="spacingAndGlyphs">8</text>
<text x="124.19" y="498.70" font-size="10.0" text-anchor="middle" fill="#17406e" stroke="#17406e" textLength="5.0" lengthAdjust="spacingAndGlyphs">5</text>
<text x="147.02" y="498.70" font-size="10.0" text-anchor="middle" fill="#17406e" stroke="#17406e" textLength="5.0" lengthAdjust="spacingAndGlyphs">5</text>
<text x="169.85" y="498.70" font-size="10.0" text-anchor="middle" fill="#17406e" stroke="#17406e" textLength="5.0" lengthAdjust="spacingAndGlyphs">4</text>
<text x="192.68" y="498.70" font-size="10.0" text-anchor="middle" fill="#17406e" stroke="#17406e" textLength="5.0" lengthAdjust="spacingAndGlyphs">1</text>
<text x="215.51" y="498.70" font-size="10.0" text-anchor="middle" fill="#17406e" stroke="#17406e" textLength="5.0" lengthAdjust="spacingAndGlyphs">1</text>
<text x="238.34" y="498.70" font-size="10.0" text-anchor="middle" fill="#17406e" stroke="#17406e" textLength="5.0" lengthAdjust="spacingAndGlyphs">1</text>
<line x1="32.70" y1="508.50" x2="47.00" y2="508.50" stroke="#a3132f" stroke-width="3.0"/>
<text x="55.70" y="512.00" font-size="10.0" text-anchor="middle" fill="#a3132f" stroke="#a3132f" textLength="5.0" lengthAdjust="spacingAndGlyphs">6</text>
<text x="78.53" y="512.00" font-size="10.0" text-anchor="middle" fill="#a3132f" stroke="#a3132f" textLength="5.0" lengthAdjust="spacingAndGlyphs">0</text>
<text x="101.36" y="512.00" font-size="10.0" text-anchor="middle" fill="#a3132f" stroke="#a3132f" textLength="5.0" lengthAdjust="spacingAndGlyphs">0</text>
<text x="124.19" y="512.00" font-size="10.0" text-anchor="middle" fill="#a3132f" stroke="#a3132f" textLength="5.0" lengthAdjust="spacingAndGlyphs">0</text>
<text x="147.02" y="512.00" font-size="10.0" text-anchor="middle" fill="#a3132f" stroke="#a3132f" textLength="5.0" lengthAdjust="spacingAndGlyphs">0</text>
<text x="169.85" y="512.00" font-size="10.0" text-anchor="middle" fill="#a3132f" stroke="#a3132f" textLength="5.0" lengthAdjust="spacingAndGlyphs">0</text>
<text x="192.68" y="512.00" font-size="10.0" text-anchor="middle" fill="#a3132f" stroke="#a3132f" textLength="5.0" lengthAdjust="spacingAndGlyphs">0</text>
<text x="215.51" y="512.00" font-size="10.0" text-anchor="middle" fill="#a3132f" stroke="#a3132f" textLength="5.0" lengthAdjust="spacingAndGlyphs">0</text>
<text x="238.34" y="512.00" font-size="10.0" text-anchor="middle" fill="#a3132f" stroke="#a3132f" textLength="5.0" lengthAdjust="spacingAndGlyphs">0</text>
<text x="273.00" y="284.10" font-size="14" fill="#000" stroke="#000" font-weight="bold">D</text>
<line x1="310.50" y1="288.70" x2="310.50" y2="427.80" stroke="#231f20" stroke-width="1.3"/>
<line x1="309.40" y1="427.50" x2="514.60" y2="427.50" stroke="#231f20" stroke-width="1.3"/>
<line x1="306.40" y1="420.50" x2="310.00" y2="420.50" stroke="#231f20" stroke-width="1.3"/>
<text x="303.60" y="423.90" font-size="9.6" text-anchor="end" textLength="5.0" lengthAdjust="spacingAndGlyphs">0</text>
<line x1="306.40" y1="388.50" x2="310.00" y2="388.50" stroke="#231f20" stroke-width="1.3"/>
<text x="303.60" y="392.34" font-size="9.6" text-anchor="end" textLength="10.0" lengthAdjust="spacingAndGlyphs">25</text>
<line x1="306.40" y1="357.50" x2="310.00" y2="357.50" stroke="#231f20" stroke-width="1.3"/>
<text x="303.60" y="360.77" font-size="9.6" text-anchor="end" textLength="10.0" lengthAdjust="spacingAndGlyphs">50</text>
<line x1="306.40" y1="325.50" x2="310.00" y2="325.50" stroke="#231f20" stroke-width="1.3"/>
<text x="303.60" y="329.21" font-size="9.6" text-anchor="end" textLength="10.0" lengthAdjust="spacingAndGlyphs">75</text>
<line x1="306.40" y1="294.50" x2="310.00" y2="294.50" stroke="#231f20" stroke-width="1.3"/>
<text x="303.60" y="297.65" font-size="9.6" text-anchor="end" textLength="14.6" lengthAdjust="spacingAndGlyphs">100</text>
<line x1="319.50" y1="427.20" x2="319.50" y2="430.60" stroke="#231f20" stroke-width="1.3"/>
<text x="319.50" y="441.30" font-size="9.5" text-anchor="middle" textLength="5.0" lengthAdjust="spacingAndGlyphs">0</text>
<line x1="342.50" y1="427.20" x2="342.50" y2="430.60" stroke="#231f20" stroke-width="1.3"/>
<text x="342.75" y="441.30" font-size="9.5" text-anchor="middle" textLength="10.0" lengthAdjust="spacingAndGlyphs">12</text>
<line x1="366.50" y1="427.20" x2="366.50" y2="430.60" stroke="#231f20" stroke-width="1.3"/>
<text x="366.00" y="441.30" font-size="9.5" text-anchor="middle" textLength="10.0" lengthAdjust="spacingAndGlyphs">24</text>
<line x1="389.50" y1="427.20" x2="389.50" y2="430.60" stroke="#231f20" stroke-width="1.3"/>
<text x="389.25" y="441.30" font-size="9.5" text-anchor="middle" textLength="10.0" lengthAdjust="spacingAndGlyphs">36</text>
<line x1="412.50" y1="427.20" x2="412.50" y2="430.60" stroke="#231f20" stroke-width="1.3"/>
<text x="412.50" y="441.30" font-size="9.5" text-anchor="middle" textLength="10.0" lengthAdjust="spacingAndGlyphs">48</text>
<line x1="435.50" y1="427.20" x2="435.50" y2="430.60" stroke="#231f20" stroke-width="1.3"/>
<text x="435.75" y="441.30" font-size="9.5" text-anchor="middle" textLength="10.0" lengthAdjust="spacingAndGlyphs">60</text>
<line x1="459.50" y1="427.20" x2="459.50" y2="430.60" stroke="#231f20" stroke-width="1.3"/>
<text x="459.00" y="441.30" font-size="9.5" text-anchor="middle" textLength="10.0" lengthAdjust="spacingAndGlyphs">72</text>
<line x1="482.50" y1="427.20" x2="482.50" y2="430.60" stroke="#231f20" stroke-width="1.3"/>
<text x="482.25" y="441.30" font-size="9.5" text-anchor="middle" textLength="10.0" lengthAdjust="spacingAndGlyphs">84</text>
<line x1="505.50" y1="427.20" x2="505.50" y2="430.60" stroke="#231f20" stroke-width="1.3"/>
<text x="505.50" y="441.30" font-size="9.5" text-anchor="middle" textLength="10.0" lengthAdjust="spacingAndGlyphs">96</text>
<text x="398.00" y="456.30" font-size="10.2" textLength="29.4" lengthAdjust="spacingAndGlyphs">Months</text>
<text transform="translate(281.20000000000005,394.3) rotate(-90)" font-size="10.6" textLength="74.7" lengthAdjust="spacingAndGlyphs">Overall survival (%)</text>
<text x="362.1" y="283.1" font-size="9.4" textLength="97.4" lengthAdjust="spacingAndGlyphs">Pre-HCT <tspan font-style="italic">FLT3</tspan>-ITD MRD</text>
<line x1="414.40" y1="294.50" x2="421.00" y2="294.50" stroke="#3f8f3f" stroke-width="1.3"/>
<text x="425.80" y="297.50" font-size="9.6" textLength="58.8" lengthAdjust="spacingAndGlyphs">PCR-NGS neg</text>
<line x1="414.40" y1="304.50" x2="421.00" y2="304.50" stroke="#2b4b6c" stroke-width="1.3"/>
<text x="425.80" y="307.30" font-size="9.6" textLength="93.4" lengthAdjust="spacingAndGlyphs">PCR-NGS pos, CE neg</text>
<line x1="414.40" y1="313.50" x2="421.00" y2="313.50" stroke="#8a1538" stroke-width="1.3"/>
<text x="425.80" y="316.60" font-size="9.6" textLength="93.1" lengthAdjust="spacingAndGlyphs">PCR-NGS pos, CE pos</text>
<text x="460.80" y="420.50" font-size="9.2" textLength="37.7" lengthAdjust="spacingAndGlyphs">p≤0.0001</text>
<path d="M 320.5 294.5 H 323.5 V 297.5 H 325.5 V 300.5 H 327.5 V 303.5 H 329.5 V 306.5 H 330.5 V 309.5 H 332.5 V 310.5 H 333.5 V 313.5 H 336.5 V 315.5 H 339.5 V 317.5 H 354.5 V 319.5 H 368.5 V 321.5 H 371.5 V 323.5 H 373.5 V 326.5 H 514.5" fill="none" stroke="#3f8f3f" stroke-width="1.4"/>
<path d="M 320.5 294.5 H 321.5 V 307.5 H 323.5 V 311.5 H 326.5 V 324.5 H 331.5 V 329.5 H 333.5 V 342.5 H 336.5 V 346.5 H 338.5 V 350.5 H 340.5 V 354.5 H 342.5 V 359.5 H 346.5 V 364.5 H 369.5 V 368.5 H 371.5 V 373.5 H 398.5 V 380.5 H 404.5 V 386.5 H 514.5" fill="none" stroke="#2b4b6c" stroke-width="1.4"/>
<path d="M 320.5 294.5 H 323.5 V 312.5 H 325.5 V 366.5 H 327.5 V 384.5 H 341.5 V 402.5 H 419.5 V 420.5" fill="none" stroke="#8a1538" stroke-width="1.4"/>
<line x1="345.00" y1="315.60" x2="345.00" y2="319.40" stroke="#3f8f3f" stroke-width="0.6"/>
<line x1="350.00" y1="315.60" x2="350.00" y2="319.40" stroke="#3f8f3f" stroke-width="0.6"/>
<line x1="358.00" y1="316.60" x2="358.00" y2="320.40" stroke="#3f8f3f" stroke-width="0.6"/>
<line x1="362.00" y1="316.60" x2="362.00" y2="320.40" stroke="#3f8f3f" stroke-width="0.6"/>
<line x1="380.00" y1="324.60" x2="380.00" y2="328.40" stroke="#3f8f3f" stroke-width="0.6"/>
<line x1="388.00" y1="324.60" x2="388.00" y2="328.40" stroke="#3f8f3f" stroke-width="0.6"/>
<line x1="395.00" y1="324.60" x2="395.00" y2="328.40" stroke="#3f8f3f" stroke-width="0.6"/>
<line x1="400.00" y1="324.60" x2="400.00" y2="328.40" stroke="#3f8f3f" stroke-width="0.6"/>
<line x1="405.00" y1="324.60" x2="405.00" y2="328.40" stroke="#3f8f3f" stroke-width="0.6"/>
<line x1="410.00" y1="324.60" x2="410.00" y2="328.40" stroke="#3f8f3f" stroke-width="0.6"/>
<line x1="418.00" y1="324.60" x2="418.00" y2="328.40" stroke="#3f8f3f" stroke-width="0.6"/>
<line x1="425.00" y1="324.60" x2="425.00" y2="328.40" stroke="#3f8f3f" stroke-width="0.6"/>
<line x1="430.00" y1="324.60" x2="430.00" y2="328.40" stroke="#3f8f3f" stroke-width="0.6"/>
<line x1="440.00" y1="324.60" x2="440.00" y2="328.40" stroke="#3f8f3f" stroke-width="0.6"/>
<line x1="445.00" y1="324.60" x2="445.00" y2="328.40" stroke="#3f8f3f" stroke-width="0.6"/>
<line x1="452.00" y1="324.60" x2="452.00" y2="328.40" stroke="#3f8f3f" stroke-width="0.6"/>
<line x1="462.00" y1="324.60" x2="462.00" y2="328.40" stroke="#3f8f3f" stroke-width="0.6"/>
<line x1="470.00" y1="324.60" x2="470.00" y2="328.40" stroke="#3f8f3f" stroke-width="0.6"/>
<line x1="508.00" y1="324.60" x2="508.00" y2="328.40" stroke="#3f8f3f" stroke-width="0.6"/>
<line x1="380.00" y1="371.60" x2="380.00" y2="375.40" stroke="#2b4b6c" stroke-width="0.6"/>
<line x1="390.00" y1="371.60" x2="390.00" y2="375.40" stroke="#2b4b6c" stroke-width="0.6"/>
<line x1="428.00" y1="384.60" x2="428.00" y2="388.40" stroke="#2b4b6c" stroke-width="0.6"/>
<line x1="444.00" y1="384.60" x2="444.00" y2="388.40" stroke="#2b4b6c" stroke-width="0.6"/>
<line x1="455.00" y1="384.60" x2="455.00" y2="388.40" stroke="#2b4b6c" stroke-width="0.6"/>
<text x="310.50" y="470.00" font-size="9.4" textLength="26.2" lengthAdjust="spacingAndGlyphs">At risk</text>
<line x1="296.20" y1="481.50" x2="310.00" y2="481.50" stroke="#389a36" stroke-width="3.0"/>
<text x="319.50" y="485.10" font-size="10.0" text-anchor="middle" fill="#389a36" stroke="#389a36" textLength="10.2" lengthAdjust="spacingAndGlyphs">66</text>
<text x="342.75" y="485.10" font-size="10.0" text-anchor="middle" fill="#389a36" stroke="#389a36" textLength="10.2" lengthAdjust="spacingAndGlyphs">52</text>
<text x="366.00" y="485.10" font-size="10.0" text-anchor="middle" fill="#389a36" stroke="#389a36" textLength="10.2" lengthAdjust="spacingAndGlyphs">47</text>
<text x="389.25" y="485.10" font-size="10.0" text-anchor="middle" fill="#389a36" stroke="#389a36" textLength="10.2" lengthAdjust="spacingAndGlyphs">39</text>
<text x="412.50" y="485.10" font-size="10.0" text-anchor="middle" fill="#389a36" stroke="#389a36" textLength="10.2" lengthAdjust="spacingAndGlyphs">32</text>
<text x="435.75" y="485.10" font-size="10.0" text-anchor="middle" fill="#389a36" stroke="#389a36" textLength="10.2" lengthAdjust="spacingAndGlyphs">22</text>
<text x="459.00" y="485.10" font-size="10.0" text-anchor="middle" fill="#389a36" stroke="#389a36" textLength="10.2" lengthAdjust="spacingAndGlyphs">16</text>
<text x="482.25" y="485.10" font-size="10.0" text-anchor="middle" fill="#389a36" stroke="#389a36" textLength="5.0" lengthAdjust="spacingAndGlyphs">4</text>
<text x="505.50" y="485.10" font-size="10.0" text-anchor="middle" fill="#389a36" stroke="#389a36" textLength="5.0" lengthAdjust="spacingAndGlyphs">4</text>
<line x1="296.20" y1="495.50" x2="310.00" y2="495.50" stroke="#17406e" stroke-width="3.0"/>
<text x="319.50" y="498.80" font-size="10.0" text-anchor="middle" fill="#17406e" stroke="#17406e" textLength="10.2" lengthAdjust="spacingAndGlyphs">29</text>
<text x="342.75" y="498.80" font-size="10.0" text-anchor="middle" fill="#17406e" stroke="#17406e" textLength="10.2" lengthAdjust="spacingAndGlyphs">15</text>
<text x="366.00" y="498.80" font-size="10.0" text-anchor="middle" fill="#17406e" stroke="#17406e" textLength="10.2" lengthAdjust="spacingAndGlyphs">13</text>
<text x="389.25" y="498.80" font-size="10.0" text-anchor="middle" fill="#17406e" stroke="#17406e" textLength="5.0" lengthAdjust="spacingAndGlyphs">8</text>
<text x="412.50" y="498.80" font-size="10.0" text-anchor="middle" fill="#17406e" stroke="#17406e" textLength="5.0" lengthAdjust="spacingAndGlyphs">5</text>
<text x="435.75" y="498.80" font-size="10.0" text-anchor="middle" fill="#17406e" stroke="#17406e" textLength="5.0" lengthAdjust="spacingAndGlyphs">4</text>
<text x="459.00" y="498.80" font-size="10.0" text-anchor="middle" fill="#17406e" stroke="#17406e" textLength="5.0" lengthAdjust="spacingAndGlyphs">1</text>
<text x="482.25" y="498.80" font-size="10.0" text-anchor="middle" fill="#17406e" stroke="#17406e" textLength="5.0" lengthAdjust="spacingAndGlyphs">1</text>
<text x="505.50" y="498.80" font-size="10.0" text-anchor="middle" fill="#17406e" stroke="#17406e" textLength="5.0" lengthAdjust="spacingAndGlyphs">1</text>
<line x1="296.20" y1="508.50" x2="310.00" y2="508.50" stroke="#a3132f" stroke-width="3.0"/>
<text x="319.50" y="512.10" font-size="10.0" text-anchor="middle" fill="#a3132f" stroke="#a3132f" textLength="5.0" lengthAdjust="spacingAndGlyphs">7</text>
<text x="342.75" y="512.10" font-size="10.0" text-anchor="middle" fill="#a3132f" stroke="#a3132f" textLength="5.0" lengthAdjust="spacingAndGlyphs">1</text>
<text x="366.00" y="512.10" font-size="10.0" text-anchor="middle" fill="#a3132f" stroke="#a3132f" textLength="5.0" lengthAdjust="spacingAndGlyphs">1</text>
<text x="389.25" y="512.10" font-size="10.0" text-anchor="middle" fill="#a3132f" stroke="#a3132f" textLength="5.0" lengthAdjust="spacingAndGlyphs">1</text>
<text x="412.50" y="512.10" font-size="10.0" text-anchor="middle" fill="#a3132f" stroke="#a3132f" textLength="5.0" lengthAdjust="spacingAndGlyphs">1</text>
<text x="435.75" y="512.10" font-size="10.0" text-anchor="middle" fill="#a3132f" stroke="#a3132f" textLength="5.0" lengthAdjust="spacingAndGlyphs">0</text>
<text x="459.00" y="512.10" font-size="10.0" text-anchor="middle" fill="#a3132f" stroke="#a3132f" textLength="5.0" lengthAdjust="spacingAndGlyphs">0</text>
<text x="482.25" y="512.10" font-size="10.0" text-anchor="middle" fill="#a3132f" stroke="#a3132f" textLength="5.0" lengthAdjust="spacingAndGlyphs">0</text>
<text x="505.50" y="512.10" font-size="10.0" text-anchor="middle" fill="#a3132f" stroke="#a3132f" textLength="5.0" lengthAdjust="spacingAndGlyphs">0</text>
<text x="3.30" y="538.00" font-size="14" fill="#000" stroke="#000" font-weight="bold">E</text>
<line x1="46.50" y1="568.70" x2="46.50" y2="695.40" stroke="#231f20" stroke-width="1.3"/>
<line x1="46.00" y1="694.50" x2="251.20" y2="694.50" stroke="#231f20" stroke-width="1.3"/>
<line x1="43.00" y1="689.50" x2="46.60" y2="689.50" stroke="#231f20" stroke-width="1.3"/>
<text x="39.60" y="692.90" font-size="9.6" text-anchor="end" textLength="5.0" lengthAdjust="spacingAndGlyphs">0</text>
<line x1="43.00" y1="660.50" x2="46.60" y2="660.50" stroke="#231f20" stroke-width="1.3"/>
<text x="39.60" y="664.05" font-size="9.6" text-anchor="end" textLength="10.0" lengthAdjust="spacingAndGlyphs">25</text>
<line x1="43.00" y1="631.50" x2="46.60" y2="631.50" stroke="#231f20" stroke-width="1.3"/>
<text x="39.60" y="635.20" font-size="9.6" text-anchor="end" textLength="10.0" lengthAdjust="spacingAndGlyphs">50</text>
<line x1="43.00" y1="602.50" x2="46.60" y2="602.50" stroke="#231f20" stroke-width="1.3"/>
<text x="39.60" y="606.35" font-size="9.6" text-anchor="end" textLength="10.0" lengthAdjust="spacingAndGlyphs">75</text>
<line x1="43.00" y1="574.50" x2="46.60" y2="574.50" stroke="#231f20" stroke-width="1.3"/>
<text x="39.60" y="577.50" font-size="9.6" text-anchor="end" textLength="14.6" lengthAdjust="spacingAndGlyphs">100</text>
<line x1="55.50" y1="694.80" x2="55.50" y2="698.20" stroke="#231f20" stroke-width="1.3"/>
<text x="55.80" y="710.00" font-size="9.5" text-anchor="middle" textLength="5.0" lengthAdjust="spacingAndGlyphs">0</text>
<line x1="79.50" y1="694.80" x2="79.50" y2="698.20" stroke="#231f20" stroke-width="1.3"/>
<text x="79.14" y="710.00" font-size="9.5" text-anchor="middle" textLength="10.0" lengthAdjust="spacingAndGlyphs">12</text>
<line x1="102.50" y1="694.80" x2="102.50" y2="698.20" stroke="#231f20" stroke-width="1.3"/>
<text x="102.48" y="710.00" font-size="9.5" text-anchor="middle" textLength="10.0" lengthAdjust="spacingAndGlyphs">24</text>
<line x1="125.50" y1="694.80" x2="125.50" y2="698.20" stroke="#231f20" stroke-width="1.3"/>
<text x="125.82" y="710.00" font-size="9.5" text-anchor="middle" textLength="10.0" lengthAdjust="spacingAndGlyphs">36</text>
<line x1="149.50" y1="694.80" x2="149.50" y2="698.20" stroke="#231f20" stroke-width="1.3"/>
<text x="149.16" y="710.00" font-size="9.5" text-anchor="middle" textLength="10.0" lengthAdjust="spacingAndGlyphs">48</text>
<line x1="172.50" y1="694.80" x2="172.50" y2="698.20" stroke="#231f20" stroke-width="1.3"/>
<text x="172.50" y="710.00" font-size="9.5" text-anchor="middle" textLength="10.0" lengthAdjust="spacingAndGlyphs">60</text>
<line x1="195.50" y1="694.80" x2="195.50" y2="698.20" stroke="#231f20" stroke-width="1.3"/>
<text x="195.84" y="710.00" font-size="9.5" text-anchor="middle" textLength="10.0" lengthAdjust="spacingAndGlyphs">72</text>
<line x1="219.50" y1="694.80" x2="219.50" y2="698.20" stroke="#231f20" stroke-width="1.3"/>
<text x="219.18" y="710.00" font-size="9.5" text-anchor="middle" textLength="10.0" lengthAdjust="spacingAndGlyphs">84</text>
<line x1="242.50" y1="694.80" x2="242.50" y2="698.20" stroke="#231f20" stroke-width="1.3"/>
<text x="242.52" y="710.00" font-size="9.5" text-anchor="middle" textLength="10.0" lengthAdjust="spacingAndGlyphs">96</text>
<text x="134.50" y="725.20" font-size="10.2" textLength="29.4" lengthAdjust="spacingAndGlyphs">Months</text>
<text transform="translate(17.5,679.5) rotate(-90)" font-size="10.6" textLength="95" lengthAdjust="spacingAndGlyphs">Relapse-free survival (%)</text>
<text x="118.80" y="535.90" font-size="9.4" textLength="58.8" lengthAdjust="spacingAndGlyphs">Pre-HCT MRD</text>
<line x1="144.20" y1="546.50" x2="165.20" y2="546.50" stroke="#3f8f3f" stroke-width="1.3" stroke-dasharray="7.7 3.1"/>
<text x="168.5" y="548.70" font-size="9.4" textLength="77.3" lengthAdjust="spacingAndGlyphs"><tspan font-style="italic">NPM1</tspan>–/<tspan font-style="italic">FLT3</tspan>-ITD–</text>
<line x1="144.20" y1="557.50" x2="165.20" y2="557.50" stroke="#46344f" stroke-width="1.3" stroke-dasharray="4.3 4.3"/>
<text x="168.5" y="560.20" font-size="9.4" textLength="77.3" lengthAdjust="spacingAndGlyphs"><tspan font-style="italic">NPM1</tspan>–/<tspan font-style="italic">FLT3</tspan>-ITD+</text>
<line x1="144.20" y1="569.50" x2="165.20" y2="569.50" stroke="#2b4b6c" stroke-width="1.3" stroke-dasharray="6 2.7 1.6 2.7" stroke-dashoffset="8.7"/>
<text x="168.5" y="571.90" font-size="9.4" textLength="77.3" lengthAdjust="spacingAndGlyphs"><tspan font-style="italic">NPM1</tspan>+/<tspan font-style="italic">FLT3</tspan>-ITD–</text>
<line x1="144.20" y1="580.50" x2="165.20" y2="580.50" stroke="#8a1538" stroke-width="1.3"/>
<text x="168.5" y="582.90" font-size="9.4" textLength="77.3" lengthAdjust="spacingAndGlyphs"><tspan font-style="italic">NPM1</tspan>+/<tspan font-style="italic">FLT3</tspan>-ITD+</text>
<path d="M 57.5 574.5 H 79.5 V 632.5 H 249.5" fill="none" stroke="#46344f" stroke-width="1.4" stroke-dasharray="4.3 4.3" stroke-dashoffset="1.3"/>
<path d="M 57.5 574.5 H 62.5 V 577.5 H 63.5 V 581.5 H 71.5 V 585.5 H 104.5 V 590.5 H 213.5" fill="none" stroke="#3f8f3f" stroke-width="1.4" stroke-dasharray="7.7 3.1"/>
<path d="M 57.5 574.5 H 59.5 V 586.5 H 61.5 V 591.5 H 62.5 V 599.5 H 64.5 V 602.5 H 65.5 V 606.5 H 67.5 V 610.5 H 69.5 V 612.5 H 205.5" fill="none" stroke="#2b4b6c" stroke-width="1.4" stroke-dasharray="6 2.7 1.6 2.7"/>
<path d="M 57.5 574.5 H 57.5 V 590.5 H 59.5 V 610.5 H 61.5 V 616.5 H 63.5 V 642.5 H 65.5 V 647.5 H 67.5 V 663.5 H 83.5 V 668.5 H 89.5 V 673.5 H 180.5" fill="none" stroke="#8a1538" stroke-width="1.4"/>
<line x1="124.00" y1="588.60" x2="124.00" y2="592.40" stroke="#3f8f3f" stroke-width="0.6"/>
<line x1="145.20" y1="588.60" x2="145.20" y2="592.40" stroke="#3f8f3f" stroke-width="0.6"/>
<line x1="149.00" y1="588.60" x2="149.00" y2="592.40" stroke="#3f8f3f" stroke-width="0.6"/>
<line x1="167.00" y1="588.60" x2="167.00" y2="592.40" stroke="#3f8f3f" stroke-width="0.6"/>
<line x1="173.00" y1="588.60" x2="173.00" y2="592.40" stroke="#3f8f3f" stroke-width="0.6"/>
<line x1="191.00" y1="588.60" x2="191.00" y2="592.40" stroke="#3f8f3f" stroke-width="0.6"/>
<line x1="198.40" y1="588.60" x2="198.40" y2="592.40" stroke="#3f8f3f" stroke-width="0.6"/>
<line x1="205.60" y1="588.60" x2="205.60" y2="592.40" stroke="#3f8f3f" stroke-width="0.6"/>
<line x1="114.00" y1="610.60" x2="114.00" y2="614.40" stroke="#2b4b6c" stroke-width="0.6"/>
<line x1="136.00" y1="610.60" x2="136.00" y2="614.40" stroke="#2b4b6c" stroke-width="0.6"/>
<line x1="142.00" y1="610.60" x2="142.00" y2="614.40" stroke="#2b4b6c" stroke-width="0.6"/>
<line x1="160.00" y1="610.60" x2="160.00" y2="614.40" stroke="#2b4b6c" stroke-width="0.6"/>
<line x1="179.00" y1="610.60" x2="179.00" y2="614.40" stroke="#2b4b6c" stroke-width="0.6"/>
<line x1="204.00" y1="610.60" x2="204.00" y2="614.40" stroke="#2b4b6c" stroke-width="0.6"/>
<line x1="114.50" y1="671.60" x2="114.50" y2="675.40" stroke="#8a1538" stroke-width="0.6"/>
<line x1="165.00" y1="671.60" x2="165.00" y2="675.40" stroke="#8a1538" stroke-width="0.6"/>
<text x="47.20" y="739.40" font-size="9.4" textLength="26.2" lengthAdjust="spacingAndGlyphs">At risk</text>
<line x1="33.00" y1="749.50" x2="47.20" y2="749.50" stroke="#389a36" stroke-width="3.0"/>
<text x="55.80" y="752.60" font-size="10.0" text-anchor="middle" fill="#389a36" stroke="#389a36" textLength="10.2" lengthAdjust="spacingAndGlyphs">29</text>
<text x="79.14" y="752.60" font-size="10.0" text-anchor="middle" fill="#389a36" stroke="#389a36" textLength="10.2" lengthAdjust="spacingAndGlyphs">26</text>
<text x="102.48" y="752.60" font-size="10.0" text-anchor="middle" fill="#389a36" stroke="#389a36" textLength="10.2" lengthAdjust="spacingAndGlyphs">24</text>
<text x="125.82" y="752.60" font-size="10.0" text-anchor="middle" fill="#389a36" stroke="#389a36" textLength="10.2" lengthAdjust="spacingAndGlyphs">20</text>
<text x="149.16" y="752.60" font-size="10.0" text-anchor="middle" fill="#389a36" stroke="#389a36" textLength="10.2" lengthAdjust="spacingAndGlyphs">17</text>
<text x="172.50" y="752.60" font-size="10.0" text-anchor="middle" fill="#389a36" stroke="#389a36" textLength="10.2" lengthAdjust="spacingAndGlyphs">11</text>
<text x="195.84" y="752.60" font-size="10.0" text-anchor="middle" fill="#389a36" stroke="#389a36" textLength="5.0" lengthAdjust="spacingAndGlyphs">8</text>
<text x="219.18" y="752.60" font-size="10.0" text-anchor="middle" fill="#389a36" stroke="#389a36" textLength="5.0" lengthAdjust="spacingAndGlyphs">0</text>
<text x="242.52" y="752.60" font-size="10.0" text-anchor="middle" fill="#389a36" stroke="#389a36" textLength="5.0" lengthAdjust="spacingAndGlyphs">0</text>
<line x1="33.00" y1="762.50" x2="47.20" y2="762.50" stroke="#3a1a40" stroke-width="3.0"/>
<text x="55.80" y="766.20" font-size="10.0" text-anchor="middle" fill="#3a1a40" stroke="#3a1a40" textLength="5.0" lengthAdjust="spacingAndGlyphs">2</text>
<text x="79.14" y="766.20" font-size="10.0" text-anchor="middle" fill="#3a1a40" stroke="#3a1a40" textLength="5.0" lengthAdjust="spacingAndGlyphs">2</text>
<text x="102.48" y="766.20" font-size="10.0" text-anchor="middle" fill="#3a1a40" stroke="#3a1a40" textLength="5.0" lengthAdjust="spacingAndGlyphs">1</text>
<text x="125.82" y="766.20" font-size="10.0" text-anchor="middle" fill="#3a1a40" stroke="#3a1a40" textLength="5.0" lengthAdjust="spacingAndGlyphs">1</text>
<text x="149.16" y="766.20" font-size="10.0" text-anchor="middle" fill="#3a1a40" stroke="#3a1a40" textLength="5.0" lengthAdjust="spacingAndGlyphs">1</text>
<text x="172.50" y="766.20" font-size="10.0" text-anchor="middle" fill="#3a1a40" stroke="#3a1a40" textLength="5.0" lengthAdjust="spacingAndGlyphs">1</text>
<text x="195.84" y="766.20" font-size="10.0" text-anchor="middle" fill="#3a1a40" stroke="#3a1a40" textLength="5.0" lengthAdjust="spacingAndGlyphs">1</text>
<text x="219.18" y="766.20" font-size="10.0" text-anchor="middle" fill="#3a1a40" stroke="#3a1a40" textLength="5.0" lengthAdjust="spacingAndGlyphs">1</text>
<text x="242.52" y="766.20" font-size="10.0" text-anchor="middle" fill="#3a1a40" stroke="#3a1a40" textLength="5.0" lengthAdjust="spacingAndGlyphs">1</text>
<line x1="33.00" y1="776.50" x2="47.20" y2="776.50" stroke="#17406e" stroke-width="3.0"/>
<text x="55.80" y="779.50" font-size="10.0" text-anchor="middle" fill="#17406e" stroke="#17406e" textLength="10.2" lengthAdjust="spacingAndGlyphs">18</text>
<text x="79.14" y="779.50" font-size="10.0" text-anchor="middle" fill="#17406e" stroke="#17406e" textLength="10.2" lengthAdjust="spacingAndGlyphs">11</text>
<text x="102.48" y="779.50" font-size="10.0" text-anchor="middle" fill="#17406e" stroke="#17406e" textLength="10.2" lengthAdjust="spacingAndGlyphs">10</text>
<text x="125.82" y="779.50" font-size="10.0" text-anchor="middle" fill="#17406e" stroke="#17406e" textLength="5.0" lengthAdjust="spacingAndGlyphs">9</text>
<text x="149.16" y="779.50" font-size="10.0" text-anchor="middle" fill="#17406e" stroke="#17406e" textLength="5.0" lengthAdjust="spacingAndGlyphs">6</text>
<text x="172.50" y="779.50" font-size="10.0" text-anchor="middle" fill="#17406e" stroke="#17406e" textLength="5.0" lengthAdjust="spacingAndGlyphs">4</text>
<text x="195.84" y="779.50" font-size="10.0" text-anchor="middle" fill="#17406e" stroke="#17406e" textLength="5.0" lengthAdjust="spacingAndGlyphs">2</text>
<text x="219.18" y="779.50" font-size="10.0" text-anchor="middle" fill="#17406e" stroke="#17406e" textLength="5.0" lengthAdjust="spacingAndGlyphs">0</text>
<text x="242.52" y="779.50" font-size="10.0" text-anchor="middle" fill="#17406e" stroke="#17406e" textLength="5.0" lengthAdjust="spacingAndGlyphs">0</text>
<line x1="33.00" y1="789.50" x2="47.20" y2="789.50" stroke="#a3132f" stroke-width="3.0"/>
<text x="55.80" y="792.80" font-size="10.0" text-anchor="middle" fill="#a3132f" stroke="#a3132f" textLength="10.2" lengthAdjust="spacingAndGlyphs">22</text>
<text x="79.14" y="792.80" font-size="10.0" text-anchor="middle" fill="#a3132f" stroke="#a3132f" textLength="5.0" lengthAdjust="spacingAndGlyphs">5</text>
<text x="102.48" y="792.80" font-size="10.0" text-anchor="middle" fill="#a3132f" stroke="#a3132f" textLength="5.0" lengthAdjust="spacingAndGlyphs">3</text>
<text x="125.82" y="792.80" font-size="10.0" text-anchor="middle" fill="#a3132f" stroke="#a3132f" textLength="5.0" lengthAdjust="spacingAndGlyphs">2</text>
<text x="149.16" y="792.80" font-size="10.0" text-anchor="middle" fill="#a3132f" stroke="#a3132f" textLength="5.0" lengthAdjust="spacingAndGlyphs">2</text>
<text x="172.50" y="792.80" font-size="10.0" text-anchor="middle" fill="#a3132f" stroke="#a3132f" textLength="5.0" lengthAdjust="spacingAndGlyphs">1</text>
<text x="195.84" y="792.80" font-size="10.0" text-anchor="middle" fill="#a3132f" stroke="#a3132f" textLength="5.0" lengthAdjust="spacingAndGlyphs">0</text>
<text x="219.18" y="792.80" font-size="10.0" text-anchor="middle" fill="#a3132f" stroke="#a3132f" textLength="5.0" lengthAdjust="spacingAndGlyphs">0</text>
<text x="242.52" y="792.80" font-size="10.0" text-anchor="middle" fill="#a3132f" stroke="#a3132f" textLength="5.0" lengthAdjust="spacingAndGlyphs">0</text>
<text x="275.00" y="537.80" font-size="14" fill="#000" stroke="#000" font-weight="bold">F</text>
<line x1="310.50" y1="568.70" x2="310.50" y2="696.10" stroke="#231f20" stroke-width="1.3"/>
<line x1="309.40" y1="695.50" x2="515.00" y2="695.50" stroke="#231f20" stroke-width="1.3"/>
<line x1="306.40" y1="689.50" x2="310.00" y2="689.50" stroke="#231f20" stroke-width="1.3"/>
<text x="303.50" y="692.90" font-size="9.6" text-anchor="end" textLength="5.0" lengthAdjust="spacingAndGlyphs">0</text>
<line x1="306.40" y1="660.50" x2="310.00" y2="660.50" stroke="#231f20" stroke-width="1.3"/>
<text x="303.50" y="664.02" font-size="9.6" text-anchor="end" textLength="10.0" lengthAdjust="spacingAndGlyphs">25</text>
<line x1="306.40" y1="631.50" x2="310.00" y2="631.50" stroke="#231f20" stroke-width="1.3"/>
<text x="303.50" y="635.15" font-size="9.6" text-anchor="end" textLength="10.0" lengthAdjust="spacingAndGlyphs">50</text>
<line x1="306.40" y1="602.50" x2="310.00" y2="602.50" stroke="#231f20" stroke-width="1.3"/>
<text x="303.50" y="606.27" font-size="9.6" text-anchor="end" textLength="10.0" lengthAdjust="spacingAndGlyphs">75</text>
<line x1="306.40" y1="574.50" x2="310.00" y2="574.50" stroke="#231f20" stroke-width="1.3"/>
<text x="303.50" y="577.40" font-size="9.6" text-anchor="end" textLength="14.6" lengthAdjust="spacingAndGlyphs">100</text>
<line x1="319.50" y1="695.50" x2="319.50" y2="698.90" stroke="#231f20" stroke-width="1.3"/>
<text x="319.50" y="710.60" font-size="9.5" text-anchor="middle" textLength="5.0" lengthAdjust="spacingAndGlyphs">0</text>
<line x1="342.50" y1="695.50" x2="342.50" y2="698.90" stroke="#231f20" stroke-width="1.3"/>
<text x="342.80" y="710.60" font-size="9.5" text-anchor="middle" textLength="10.0" lengthAdjust="spacingAndGlyphs">12</text>
<line x1="366.50" y1="695.50" x2="366.50" y2="698.90" stroke="#231f20" stroke-width="1.3"/>
<text x="366.10" y="710.60" font-size="9.5" text-anchor="middle" textLength="10.0" lengthAdjust="spacingAndGlyphs">24</text>
<line x1="389.50" y1="695.50" x2="389.50" y2="698.90" stroke="#231f20" stroke-width="1.3"/>
<text x="389.40" y="710.60" font-size="9.5" text-anchor="middle" textLength="10.0" lengthAdjust="spacingAndGlyphs">36</text>
<line x1="412.50" y1="695.50" x2="412.50" y2="698.90" stroke="#231f20" stroke-width="1.3"/>
<text x="412.70" y="710.60" font-size="9.5" text-anchor="middle" textLength="10.0" lengthAdjust="spacingAndGlyphs">48</text>
<line x1="436.50" y1="695.50" x2="436.50" y2="698.90" stroke="#231f20" stroke-width="1.3"/>
<text x="436.00" y="710.60" font-size="9.5" text-anchor="middle" textLength="10.0" lengthAdjust="spacingAndGlyphs">60</text>
<line x1="459.50" y1="695.50" x2="459.50" y2="698.90" stroke="#231f20" stroke-width="1.3"/>
<text x="459.30" y="710.60" font-size="9.5" text-anchor="middle" textLength="10.0" lengthAdjust="spacingAndGlyphs">72</text>
<line x1="482.50" y1="695.50" x2="482.50" y2="698.90" stroke="#231f20" stroke-width="1.3"/>
<text x="482.60" y="710.60" font-size="9.5" text-anchor="middle" textLength="10.0" lengthAdjust="spacingAndGlyphs">84</text>
<line x1="505.50" y1="695.50" x2="505.50" y2="698.90" stroke="#231f20" stroke-width="1.3"/>
<text x="505.90" y="710.60" font-size="9.5" text-anchor="middle" textLength="10.0" lengthAdjust="spacingAndGlyphs">96</text>
<text x="398.00" y="726.20" font-size="10.2" textLength="29.4" lengthAdjust="spacingAndGlyphs">Months</text>
<text transform="translate(280.8,669) rotate(-90)" font-size="10.6" textLength="74.7" lengthAdjust="spacingAndGlyphs">Overall survival (%)</text>
<text x="382.10" y="536.10" font-size="9.4" textLength="58.6" lengthAdjust="spacingAndGlyphs">Pre-HCT MRD</text>
<line x1="410.40" y1="546.50" x2="430.50" y2="546.50" stroke="#3f8f3f" stroke-width="1.3" stroke-dasharray="7.7 3.1"/>
<text x="434" y="548.80" font-size="9.4" textLength="77.3" lengthAdjust="spacingAndGlyphs"><tspan font-style="italic">NPM1</tspan>–/<tspan font-style="italic">FLT3</tspan>-ITD–</text>
<line x1="410.40" y1="557.50" x2="430.50" y2="557.50" stroke="#46344f" stroke-width="1.3" stroke-dasharray="4.3 4.3"/>
<text x="434" y="560.20" font-size="9.4" textLength="77.3" lengthAdjust="spacingAndGlyphs"><tspan font-style="italic">NPM1</tspan>–/<tspan font-style="italic">FLT3</tspan>-ITD+</text>
<line x1="410.40" y1="569.50" x2="430.50" y2="569.50" stroke="#2b4b6c" stroke-width="1.3" stroke-dasharray="6 2.7 1.6 2.7" stroke-dashoffset="8.7"/>
<text x="434" y="571.90" font-size="9.4" textLength="77.3" lengthAdjust="spacingAndGlyphs"><tspan font-style="italic">NPM1</tspan>+/<tspan font-style="italic">FLT3</tspan>-ITD–</text>
<line x1="410.40" y1="580.50" x2="430.50" y2="580.50" stroke="#8a1538" stroke-width="1.3"/>
<text x="434" y="582.90" font-size="9.4" textLength="77.3" lengthAdjust="spacingAndGlyphs"><tspan font-style="italic">NPM1</tspan>+/<tspan font-style="italic">FLT3</tspan>-ITD+</text>
<path d="M 320.5 574.5 H 342.5 V 632.5 H 513.5" fill="none" stroke="#46344f" stroke-width="1.4" stroke-dasharray="4.3 4.3"/>
<path d="M 320.5 574.5 H 326.5 V 578.5 H 328.5 V 582.5 H 334.5 V 585.5 H 368.5 V 590.5 H 477.5" fill="none" stroke="#3f8f3f" stroke-width="1.4" stroke-dasharray="7.7 3.1"/>
<path d="M 320.5 574.5 H 323.5 V 586.5 H 329.5 V 600.5 H 333.5 V 606.5 H 338.5 V 613.5 H 469.5" fill="none" stroke="#2b4b6c" stroke-width="1.4" stroke-dasharray="6 2.7 1.6 2.7"/>
<path d="M 320.5 574.5 H 321.5 V 584.5 H 323.5 V 589.5 H 325.5 V 605.5 H 327.5 V 621.5 H 331.5 V 626.5 H 333.5 V 642.5 H 338.5 V 653.5 H 346.5 V 658.5 H 372.5 V 663.5 H 418.5 V 672.5 H 443.5" fill="none" stroke="#8a1538" stroke-width="1.4"/>
<line x1="388.00" y1="588.60" x2="388.00" y2="592.40" stroke="#3f8f3f" stroke-width="0.6"/>
<line x1="408.70" y1="588.60" x2="408.70" y2="592.40" stroke="#3f8f3f" stroke-width="0.6"/>
<line x1="431.60" y1="588.60" x2="431.60" y2="592.40" stroke="#3f8f3f" stroke-width="0.6"/>
<line x1="453.20" y1="588.60" x2="453.20" y2="592.40" stroke="#3f8f3f" stroke-width="0.6"/>
<line x1="464.00" y1="588.60" x2="464.00" y2="592.40" stroke="#3f8f3f" stroke-width="0.6"/>
<line x1="472.00" y1="588.60" x2="472.00" y2="592.40" stroke="#3f8f3f" stroke-width="0.6"/>
<line x1="342.70" y1="611.60" x2="342.70" y2="615.40" stroke="#2b4b6c" stroke-width="0.6"/>
<line x1="376.40" y1="611.60" x2="376.40" y2="615.40" stroke="#2b4b6c" stroke-width="0.6"/>
<line x1="400.60" y1="611.60" x2="400.60" y2="615.40" stroke="#2b4b6c" stroke-width="0.6"/>
<line x1="403.30" y1="611.60" x2="403.30" y2="615.40" stroke="#2b4b6c" stroke-width="0.6"/>
<line x1="423.60" y1="611.60" x2="423.60" y2="615.40" stroke="#2b4b6c" stroke-width="0.6"/>
<line x1="445.10" y1="611.60" x2="445.10" y2="615.40" stroke="#2b4b6c" stroke-width="0.6"/>
<line x1="377.30" y1="661.60" x2="377.30" y2="665.40" stroke="#8a1538" stroke-width="0.6"/>
<line x1="393.50" y1="661.60" x2="393.50" y2="665.40" stroke="#8a1538" stroke-width="0.6"/>
<line x1="428.20" y1="670.60" x2="428.20" y2="674.40" stroke="#8a1538" stroke-width="0.6"/>
<text x="309.90" y="738.80" font-size="9.4" textLength="26.2" lengthAdjust="spacingAndGlyphs">At risk</text>
<line x1="296.30" y1="749.50" x2="310.00" y2="749.50" stroke="#389a36" stroke-width="3.0"/>
<text x="319.50" y="752.90" font-size="10.0" text-anchor="middle" fill="#389a36" stroke="#389a36" textLength="10.2" lengthAdjust="spacingAndGlyphs">29</text>
<text x="342.80" y="752.90" font-size="10.0" text-anchor="middle" fill="#389a36" stroke="#389a36" textLength="10.2" lengthAdjust="spacingAndGlyphs">26</text>
<text x="366.10" y="752.90" font-size="10.0" text-anchor="middle" fill="#389a36" stroke="#389a36" textLength="10.2" lengthAdjust="spacingAndGlyphs">24</text>
<text x="389.40" y="752.90" font-size="10.0" text-anchor="middle" fill="#389a36" stroke="#389a36" textLength="10.2" lengthAdjust="spacingAndGlyphs">20</text>
<text x="412.70" y="752.90" font-size="10.0" text-anchor="middle" fill="#389a36" stroke="#389a36" textLength="10.2" lengthAdjust="spacingAndGlyphs">17</text>
<text x="436.00" y="752.90" font-size="10.0" text-anchor="middle" fill="#389a36" stroke="#389a36" textLength="10.2" lengthAdjust="spacingAndGlyphs">11</text>
<text x="459.30" y="752.90" font-size="10.0" text-anchor="middle" fill="#389a36" stroke="#389a36" textLength="5.0" lengthAdjust="spacingAndGlyphs">8</text>
<text x="482.60" y="752.90" font-size="10.0" text-anchor="middle" fill="#389a36" stroke="#389a36" textLength="5.0" lengthAdjust="spacingAndGlyphs">0</text>
<text x="505.90" y="752.90" font-size="10.0" text-anchor="middle" fill="#389a36" stroke="#389a36" textLength="5.0" lengthAdjust="spacingAndGlyphs">0</text>
<line x1="296.30" y1="763.50" x2="310.00" y2="763.50" stroke="#3a1a40" stroke-width="3.0"/>
<text x="319.50" y="766.50" font-size="10.0" text-anchor="middle" fill="#3a1a40" stroke="#3a1a40" textLength="5.0" lengthAdjust="spacingAndGlyphs">2</text>
<text x="342.80" y="766.50" font-size="10.0" text-anchor="middle" fill="#3a1a40" stroke="#3a1a40" textLength="5.0" lengthAdjust="spacingAndGlyphs">2</text>
<text x="366.10" y="766.50" font-size="10.0" text-anchor="middle" fill="#3a1a40" stroke="#3a1a40" textLength="5.0" lengthAdjust="spacingAndGlyphs">1</text>
<text x="389.40" y="766.50" font-size="10.0" text-anchor="middle" fill="#3a1a40" stroke="#3a1a40" textLength="5.0" lengthAdjust="spacingAndGlyphs">1</text>
<text x="412.70" y="766.50" font-size="10.0" text-anchor="middle" fill="#3a1a40" stroke="#3a1a40" textLength="5.0" lengthAdjust="spacingAndGlyphs">1</text>
<text x="436.00" y="766.50" font-size="10.0" text-anchor="middle" fill="#3a1a40" stroke="#3a1a40" textLength="5.0" lengthAdjust="spacingAndGlyphs">1</text>
<text x="459.30" y="766.50" font-size="10.0" text-anchor="middle" fill="#3a1a40" stroke="#3a1a40" textLength="5.0" lengthAdjust="spacingAndGlyphs">1</text>
<text x="482.60" y="766.50" font-size="10.0" text-anchor="middle" fill="#3a1a40" stroke="#3a1a40" textLength="5.0" lengthAdjust="spacingAndGlyphs">1</text>
<text x="505.90" y="766.50" font-size="10.0" text-anchor="middle" fill="#3a1a40" stroke="#3a1a40" textLength="5.0" lengthAdjust="spacingAndGlyphs">1</text>
<line x1="296.30" y1="776.50" x2="310.00" y2="776.50" stroke="#17406e" stroke-width="3.0"/>
<text x="319.50" y="780.10" font-size="10.0" text-anchor="middle" fill="#17406e" stroke="#17406e" textLength="10.2" lengthAdjust="spacingAndGlyphs">18</text>
<text x="342.80" y="780.10" font-size="10.0" text-anchor="middle" fill="#17406e" stroke="#17406e" textLength="10.2" lengthAdjust="spacingAndGlyphs">11</text>
<text x="366.10" y="780.10" font-size="10.0" text-anchor="middle" fill="#17406e" stroke="#17406e" textLength="10.2" lengthAdjust="spacingAndGlyphs">10</text>
<text x="389.40" y="780.10" font-size="10.0" text-anchor="middle" fill="#17406e" stroke="#17406e" textLength="5.0" lengthAdjust="spacingAndGlyphs">9</text>
<text x="412.70" y="780.10" font-size="10.0" text-anchor="middle" fill="#17406e" stroke="#17406e" textLength="5.0" lengthAdjust="spacingAndGlyphs">6</text>
<text x="436.00" y="780.10" font-size="10.0" text-anchor="middle" fill="#17406e" stroke="#17406e" textLength="5.0" lengthAdjust="spacingAndGlyphs">4</text>
<text x="459.30" y="780.10" font-size="10.0" text-anchor="middle" fill="#17406e" stroke="#17406e" textLength="5.0" lengthAdjust="spacingAndGlyphs">2</text>
<text x="482.60" y="780.10" font-size="10.0" text-anchor="middle" fill="#17406e" stroke="#17406e" textLength="5.0" lengthAdjust="spacingAndGlyphs">0</text>
<text x="505.90" y="780.10" font-size="10.0" text-anchor="middle" fill="#17406e" stroke="#17406e" textLength="5.0" lengthAdjust="spacingAndGlyphs">0</text>
<line x1="296.30" y1="790.50" x2="310.00" y2="790.50" stroke="#a3132f" stroke-width="3.0"/>
<text x="319.50" y="793.60" font-size="10.0" text-anchor="middle" fill="#a3132f" stroke="#a3132f" textLength="10.2" lengthAdjust="spacingAndGlyphs">22</text>
<text x="342.80" y="793.60" font-size="10.0" text-anchor="middle" fill="#a3132f" stroke="#a3132f" textLength="5.0" lengthAdjust="spacingAndGlyphs">7</text>
<text x="366.10" y="793.60" font-size="10.0" text-anchor="middle" fill="#a3132f" stroke="#a3132f" textLength="5.0" lengthAdjust="spacingAndGlyphs">6</text>
<text x="389.40" y="793.60" font-size="10.0" text-anchor="middle" fill="#a3132f" stroke="#a3132f" textLength="5.0" lengthAdjust="spacingAndGlyphs">4</text>
<text x="412.70" y="793.60" font-size="10.0" text-anchor="middle" fill="#a3132f" stroke="#a3132f" textLength="5.0" lengthAdjust="spacingAndGlyphs">3</text>
<text x="436.00" y="793.60" font-size="10.0" text-anchor="middle" fill="#a3132f" stroke="#a3132f" textLength="5.0" lengthAdjust="spacingAndGlyphs">1</text>
<text x="459.30" y="793.60" font-size="10.0" text-anchor="middle" fill="#a3132f" stroke="#a3132f" textLength="5.0" lengthAdjust="spacingAndGlyphs">0</text>
<text x="482.60" y="793.60" font-size="10.0" text-anchor="middle" fill="#a3132f" stroke="#a3132f" textLength="5.0" lengthAdjust="spacingAndGlyphs">0</text>
<text x="505.90" y="793.60" font-size="10.0" text-anchor="middle" fill="#a3132f" stroke="#a3132f" textLength="5.0" lengthAdjust="spacingAndGlyphs">0</text>
</svg>
</body></html>
